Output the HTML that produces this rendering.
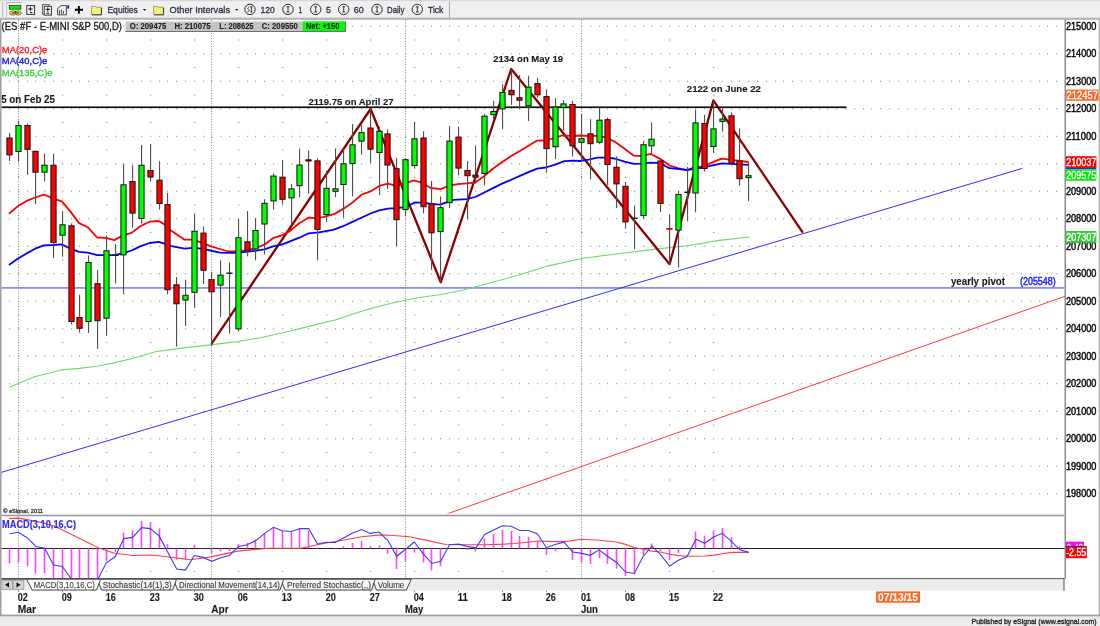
<!DOCTYPE html>
<html><head><meta charset="utf-8"><title>ES #F E-MINI S&amp;P 500 Daily</title>
<style>html,body{margin:0;padding:0;background:#fff;}body{width:1100px;height:626px;overflow:hidden;}svg{display:block;}text{white-space:pre;}</style>
</head><body>
<svg width="1100" height="626" viewBox="0 0 1100 626" shape-rendering="auto">
<rect x="0" y="0" width="1100" height="626" fill="#ffffff"/>
<rect x="0" y="0" width="1100" height="18.5" fill="#f0f0f0"/>
<rect x="0" y="0" width="1100" height="1.2" fill="#d8d8d8"/>
<rect x="0" y="17.6" width="1100" height="0.9" fill="#c0c0c0"/>
<rect x="0" y="18.4" width="1100" height="1.2" fill="#9a9a9a"/>
<rect x="449" y="1.5" width="1" height="16.5" fill="#a8a8a8"/>
<path d="M0 25.65h1.2v1.2h-1.2zM9 25.65h1.2v1.2h-1.2zM18 25.65h1.2v1.2h-1.2zM27 25.65h1.2v1.2h-1.2zM35 25.65h1.2v1.2h-1.2zM44 25.65h1.2v1.2h-1.2zM53 25.65h1.2v1.2h-1.2zM62 25.65h1.2v1.2h-1.2zM71 25.65h1.2v1.2h-1.2zM79 25.65h1.2v1.2h-1.2zM88 25.65h1.2v1.2h-1.2zM97 25.65h1.2v1.2h-1.2zM106 25.65h1.2v1.2h-1.2zM115 25.65h1.2v1.2h-1.2zM123 25.65h1.2v1.2h-1.2zM132 25.65h1.2v1.2h-1.2zM141 25.65h1.2v1.2h-1.2zM150 25.65h1.2v1.2h-1.2zM159 25.65h1.2v1.2h-1.2zM167 25.65h1.2v1.2h-1.2zM176 25.65h1.2v1.2h-1.2zM185 25.65h1.2v1.2h-1.2zM194 25.65h1.2v1.2h-1.2zM203 25.65h1.2v1.2h-1.2zM211 25.65h1.2v1.2h-1.2zM220 25.65h1.2v1.2h-1.2zM229 25.65h1.2v1.2h-1.2zM238 25.65h1.2v1.2h-1.2zM247 25.65h1.2v1.2h-1.2zM255 25.65h1.2v1.2h-1.2zM264 25.65h1.2v1.2h-1.2zM273 25.65h1.2v1.2h-1.2zM282 25.65h1.2v1.2h-1.2zM291 25.65h1.2v1.2h-1.2zM299 25.65h1.2v1.2h-1.2zM308 25.65h1.2v1.2h-1.2zM317 25.65h1.2v1.2h-1.2zM326 25.65h1.2v1.2h-1.2zM335 25.65h1.2v1.2h-1.2zM343 25.65h1.2v1.2h-1.2zM352 25.65h1.2v1.2h-1.2zM361 25.65h1.2v1.2h-1.2zM370 25.65h1.2v1.2h-1.2zM379 25.65h1.2v1.2h-1.2zM387 25.65h1.2v1.2h-1.2zM396 25.65h1.2v1.2h-1.2zM405 25.65h1.2v1.2h-1.2zM414 25.65h1.2v1.2h-1.2zM423 25.65h1.2v1.2h-1.2zM431 25.65h1.2v1.2h-1.2zM440 25.65h1.2v1.2h-1.2zM449 25.65h1.2v1.2h-1.2zM458 25.65h1.2v1.2h-1.2zM467 25.65h1.2v1.2h-1.2zM475 25.65h1.2v1.2h-1.2zM484 25.65h1.2v1.2h-1.2zM493 25.65h1.2v1.2h-1.2zM502 25.65h1.2v1.2h-1.2zM511 25.65h1.2v1.2h-1.2zM519 25.65h1.2v1.2h-1.2zM528 25.65h1.2v1.2h-1.2zM537 25.65h1.2v1.2h-1.2zM546 25.65h1.2v1.2h-1.2zM555 25.65h1.2v1.2h-1.2zM563 25.65h1.2v1.2h-1.2zM572 25.65h1.2v1.2h-1.2zM581 25.65h1.2v1.2h-1.2zM590 25.65h1.2v1.2h-1.2zM599 25.65h1.2v1.2h-1.2zM607 25.65h1.2v1.2h-1.2zM616 25.65h1.2v1.2h-1.2zM625 25.65h1.2v1.2h-1.2zM634 25.65h1.2v1.2h-1.2zM643 25.65h1.2v1.2h-1.2zM651 25.65h1.2v1.2h-1.2zM660 25.65h1.2v1.2h-1.2zM669 25.65h1.2v1.2h-1.2zM678 25.65h1.2v1.2h-1.2zM687 25.65h1.2v1.2h-1.2zM695 25.65h1.2v1.2h-1.2zM704 25.65h1.2v1.2h-1.2zM713 25.65h1.2v1.2h-1.2zM722 25.65h1.2v1.2h-1.2zM731 25.65h1.2v1.2h-1.2zM739 25.65h1.2v1.2h-1.2zM748 25.65h1.2v1.2h-1.2zM757 25.65h1.2v1.2h-1.2zM766 25.65h1.2v1.2h-1.2zM775 25.65h1.2v1.2h-1.2zM783 25.65h1.2v1.2h-1.2zM792 25.65h1.2v1.2h-1.2zM801 25.65h1.2v1.2h-1.2zM810 25.65h1.2v1.2h-1.2zM819 25.65h1.2v1.2h-1.2zM827 25.65h1.2v1.2h-1.2zM836 25.65h1.2v1.2h-1.2zM845 25.65h1.2v1.2h-1.2zM854 25.65h1.2v1.2h-1.2zM863 25.65h1.2v1.2h-1.2zM871 25.65h1.2v1.2h-1.2zM880 25.65h1.2v1.2h-1.2zM889 25.65h1.2v1.2h-1.2zM898 25.65h1.2v1.2h-1.2zM907 25.65h1.2v1.2h-1.2zM915 25.65h1.2v1.2h-1.2zM924 25.65h1.2v1.2h-1.2zM933 25.65h1.2v1.2h-1.2zM942 25.65h1.2v1.2h-1.2zM951 25.65h1.2v1.2h-1.2zM959 25.65h1.2v1.2h-1.2zM968 25.65h1.2v1.2h-1.2zM977 25.65h1.2v1.2h-1.2zM986 25.65h1.2v1.2h-1.2zM995 25.65h1.2v1.2h-1.2zM1003 25.65h1.2v1.2h-1.2zM1012 25.65h1.2v1.2h-1.2zM1021 25.65h1.2v1.2h-1.2zM1030 25.65h1.2v1.2h-1.2zM1039 25.65h1.2v1.2h-1.2zM1047 25.65h1.2v1.2h-1.2zM1056 25.65h1.2v1.2h-1.2zM18 39.4h1.2v1.2h-1.2zM62 39.4h1.2v1.2h-1.2zM106 39.4h1.2v1.2h-1.2zM150 39.4h1.2v1.2h-1.2zM194 39.4h1.2v1.2h-1.2zM238 39.4h1.2v1.2h-1.2zM282 39.4h1.2v1.2h-1.2zM326 39.4h1.2v1.2h-1.2zM370 39.4h1.2v1.2h-1.2zM414 39.4h1.2v1.2h-1.2zM458 39.4h1.2v1.2h-1.2zM502 39.4h1.2v1.2h-1.2zM546 39.4h1.2v1.2h-1.2zM581 39.4h1.2v1.2h-1.2zM625 39.4h1.2v1.2h-1.2zM669 39.4h1.2v1.2h-1.2zM713 39.4h1.2v1.2h-1.2zM0 53.15h1.2v1.2h-1.2zM9 53.15h1.2v1.2h-1.2zM18 53.15h1.2v1.2h-1.2zM27 53.15h1.2v1.2h-1.2zM35 53.15h1.2v1.2h-1.2zM44 53.15h1.2v1.2h-1.2zM53 53.15h1.2v1.2h-1.2zM62 53.15h1.2v1.2h-1.2zM71 53.15h1.2v1.2h-1.2zM79 53.15h1.2v1.2h-1.2zM88 53.15h1.2v1.2h-1.2zM97 53.15h1.2v1.2h-1.2zM106 53.15h1.2v1.2h-1.2zM115 53.15h1.2v1.2h-1.2zM123 53.15h1.2v1.2h-1.2zM132 53.15h1.2v1.2h-1.2zM141 53.15h1.2v1.2h-1.2zM150 53.15h1.2v1.2h-1.2zM159 53.15h1.2v1.2h-1.2zM167 53.15h1.2v1.2h-1.2zM176 53.15h1.2v1.2h-1.2zM185 53.15h1.2v1.2h-1.2zM194 53.15h1.2v1.2h-1.2zM203 53.15h1.2v1.2h-1.2zM211 53.15h1.2v1.2h-1.2zM220 53.15h1.2v1.2h-1.2zM229 53.15h1.2v1.2h-1.2zM238 53.15h1.2v1.2h-1.2zM247 53.15h1.2v1.2h-1.2zM255 53.15h1.2v1.2h-1.2zM264 53.15h1.2v1.2h-1.2zM273 53.15h1.2v1.2h-1.2zM282 53.15h1.2v1.2h-1.2zM291 53.15h1.2v1.2h-1.2zM299 53.15h1.2v1.2h-1.2zM308 53.15h1.2v1.2h-1.2zM317 53.15h1.2v1.2h-1.2zM326 53.15h1.2v1.2h-1.2zM335 53.15h1.2v1.2h-1.2zM343 53.15h1.2v1.2h-1.2zM352 53.15h1.2v1.2h-1.2zM361 53.15h1.2v1.2h-1.2zM370 53.15h1.2v1.2h-1.2zM379 53.15h1.2v1.2h-1.2zM387 53.15h1.2v1.2h-1.2zM396 53.15h1.2v1.2h-1.2zM405 53.15h1.2v1.2h-1.2zM414 53.15h1.2v1.2h-1.2zM423 53.15h1.2v1.2h-1.2zM431 53.15h1.2v1.2h-1.2zM440 53.15h1.2v1.2h-1.2zM449 53.15h1.2v1.2h-1.2zM458 53.15h1.2v1.2h-1.2zM467 53.15h1.2v1.2h-1.2zM475 53.15h1.2v1.2h-1.2zM484 53.15h1.2v1.2h-1.2zM493 53.15h1.2v1.2h-1.2zM502 53.15h1.2v1.2h-1.2zM511 53.15h1.2v1.2h-1.2zM519 53.15h1.2v1.2h-1.2zM528 53.15h1.2v1.2h-1.2zM537 53.15h1.2v1.2h-1.2zM546 53.15h1.2v1.2h-1.2zM555 53.15h1.2v1.2h-1.2zM563 53.15h1.2v1.2h-1.2zM572 53.15h1.2v1.2h-1.2zM581 53.15h1.2v1.2h-1.2zM590 53.15h1.2v1.2h-1.2zM599 53.15h1.2v1.2h-1.2zM607 53.15h1.2v1.2h-1.2zM616 53.15h1.2v1.2h-1.2zM625 53.15h1.2v1.2h-1.2zM634 53.15h1.2v1.2h-1.2zM643 53.15h1.2v1.2h-1.2zM651 53.15h1.2v1.2h-1.2zM660 53.15h1.2v1.2h-1.2zM669 53.15h1.2v1.2h-1.2zM678 53.15h1.2v1.2h-1.2zM687 53.15h1.2v1.2h-1.2zM695 53.15h1.2v1.2h-1.2zM704 53.15h1.2v1.2h-1.2zM713 53.15h1.2v1.2h-1.2zM722 53.15h1.2v1.2h-1.2zM731 53.15h1.2v1.2h-1.2zM739 53.15h1.2v1.2h-1.2zM748 53.15h1.2v1.2h-1.2zM757 53.15h1.2v1.2h-1.2zM766 53.15h1.2v1.2h-1.2zM775 53.15h1.2v1.2h-1.2zM783 53.15h1.2v1.2h-1.2zM792 53.15h1.2v1.2h-1.2zM801 53.15h1.2v1.2h-1.2zM810 53.15h1.2v1.2h-1.2zM819 53.15h1.2v1.2h-1.2zM827 53.15h1.2v1.2h-1.2zM836 53.15h1.2v1.2h-1.2zM845 53.15h1.2v1.2h-1.2zM854 53.15h1.2v1.2h-1.2zM863 53.15h1.2v1.2h-1.2zM871 53.15h1.2v1.2h-1.2zM880 53.15h1.2v1.2h-1.2zM889 53.15h1.2v1.2h-1.2zM898 53.15h1.2v1.2h-1.2zM907 53.15h1.2v1.2h-1.2zM915 53.15h1.2v1.2h-1.2zM924 53.15h1.2v1.2h-1.2zM933 53.15h1.2v1.2h-1.2zM942 53.15h1.2v1.2h-1.2zM951 53.15h1.2v1.2h-1.2zM959 53.15h1.2v1.2h-1.2zM968 53.15h1.2v1.2h-1.2zM977 53.15h1.2v1.2h-1.2zM986 53.15h1.2v1.2h-1.2zM995 53.15h1.2v1.2h-1.2zM1003 53.15h1.2v1.2h-1.2zM1012 53.15h1.2v1.2h-1.2zM1021 53.15h1.2v1.2h-1.2zM1030 53.15h1.2v1.2h-1.2zM1039 53.15h1.2v1.2h-1.2zM1047 53.15h1.2v1.2h-1.2zM1056 53.15h1.2v1.2h-1.2zM18 66.9h1.2v1.2h-1.2zM62 66.9h1.2v1.2h-1.2zM106 66.9h1.2v1.2h-1.2zM150 66.9h1.2v1.2h-1.2zM194 66.9h1.2v1.2h-1.2zM238 66.9h1.2v1.2h-1.2zM282 66.9h1.2v1.2h-1.2zM326 66.9h1.2v1.2h-1.2zM370 66.9h1.2v1.2h-1.2zM414 66.9h1.2v1.2h-1.2zM458 66.9h1.2v1.2h-1.2zM502 66.9h1.2v1.2h-1.2zM546 66.9h1.2v1.2h-1.2zM581 66.9h1.2v1.2h-1.2zM625 66.9h1.2v1.2h-1.2zM669 66.9h1.2v1.2h-1.2zM713 66.9h1.2v1.2h-1.2zM0 80.65h1.2v1.2h-1.2zM9 80.65h1.2v1.2h-1.2zM18 80.65h1.2v1.2h-1.2zM27 80.65h1.2v1.2h-1.2zM35 80.65h1.2v1.2h-1.2zM44 80.65h1.2v1.2h-1.2zM53 80.65h1.2v1.2h-1.2zM62 80.65h1.2v1.2h-1.2zM71 80.65h1.2v1.2h-1.2zM79 80.65h1.2v1.2h-1.2zM88 80.65h1.2v1.2h-1.2zM97 80.65h1.2v1.2h-1.2zM106 80.65h1.2v1.2h-1.2zM115 80.65h1.2v1.2h-1.2zM123 80.65h1.2v1.2h-1.2zM132 80.65h1.2v1.2h-1.2zM141 80.65h1.2v1.2h-1.2zM150 80.65h1.2v1.2h-1.2zM159 80.65h1.2v1.2h-1.2zM167 80.65h1.2v1.2h-1.2zM176 80.65h1.2v1.2h-1.2zM185 80.65h1.2v1.2h-1.2zM194 80.65h1.2v1.2h-1.2zM203 80.65h1.2v1.2h-1.2zM211 80.65h1.2v1.2h-1.2zM220 80.65h1.2v1.2h-1.2zM229 80.65h1.2v1.2h-1.2zM238 80.65h1.2v1.2h-1.2zM247 80.65h1.2v1.2h-1.2zM255 80.65h1.2v1.2h-1.2zM264 80.65h1.2v1.2h-1.2zM273 80.65h1.2v1.2h-1.2zM282 80.65h1.2v1.2h-1.2zM291 80.65h1.2v1.2h-1.2zM299 80.65h1.2v1.2h-1.2zM308 80.65h1.2v1.2h-1.2zM317 80.65h1.2v1.2h-1.2zM326 80.65h1.2v1.2h-1.2zM335 80.65h1.2v1.2h-1.2zM343 80.65h1.2v1.2h-1.2zM352 80.65h1.2v1.2h-1.2zM361 80.65h1.2v1.2h-1.2zM370 80.65h1.2v1.2h-1.2zM379 80.65h1.2v1.2h-1.2zM387 80.65h1.2v1.2h-1.2zM396 80.65h1.2v1.2h-1.2zM405 80.65h1.2v1.2h-1.2zM414 80.65h1.2v1.2h-1.2zM423 80.65h1.2v1.2h-1.2zM431 80.65h1.2v1.2h-1.2zM440 80.65h1.2v1.2h-1.2zM449 80.65h1.2v1.2h-1.2zM458 80.65h1.2v1.2h-1.2zM467 80.65h1.2v1.2h-1.2zM475 80.65h1.2v1.2h-1.2zM484 80.65h1.2v1.2h-1.2zM493 80.65h1.2v1.2h-1.2zM502 80.65h1.2v1.2h-1.2zM511 80.65h1.2v1.2h-1.2zM519 80.65h1.2v1.2h-1.2zM528 80.65h1.2v1.2h-1.2zM537 80.65h1.2v1.2h-1.2zM546 80.65h1.2v1.2h-1.2zM555 80.65h1.2v1.2h-1.2zM563 80.65h1.2v1.2h-1.2zM572 80.65h1.2v1.2h-1.2zM581 80.65h1.2v1.2h-1.2zM590 80.65h1.2v1.2h-1.2zM599 80.65h1.2v1.2h-1.2zM607 80.65h1.2v1.2h-1.2zM616 80.65h1.2v1.2h-1.2zM625 80.65h1.2v1.2h-1.2zM634 80.65h1.2v1.2h-1.2zM643 80.65h1.2v1.2h-1.2zM651 80.65h1.2v1.2h-1.2zM660 80.65h1.2v1.2h-1.2zM669 80.65h1.2v1.2h-1.2zM678 80.65h1.2v1.2h-1.2zM687 80.65h1.2v1.2h-1.2zM695 80.65h1.2v1.2h-1.2zM704 80.65h1.2v1.2h-1.2zM713 80.65h1.2v1.2h-1.2zM722 80.65h1.2v1.2h-1.2zM731 80.65h1.2v1.2h-1.2zM739 80.65h1.2v1.2h-1.2zM748 80.65h1.2v1.2h-1.2zM757 80.65h1.2v1.2h-1.2zM766 80.65h1.2v1.2h-1.2zM775 80.65h1.2v1.2h-1.2zM783 80.65h1.2v1.2h-1.2zM792 80.65h1.2v1.2h-1.2zM801 80.65h1.2v1.2h-1.2zM810 80.65h1.2v1.2h-1.2zM819 80.65h1.2v1.2h-1.2zM827 80.65h1.2v1.2h-1.2zM836 80.65h1.2v1.2h-1.2zM845 80.65h1.2v1.2h-1.2zM854 80.65h1.2v1.2h-1.2zM863 80.65h1.2v1.2h-1.2zM871 80.65h1.2v1.2h-1.2zM880 80.65h1.2v1.2h-1.2zM889 80.65h1.2v1.2h-1.2zM898 80.65h1.2v1.2h-1.2zM907 80.65h1.2v1.2h-1.2zM915 80.65h1.2v1.2h-1.2zM924 80.65h1.2v1.2h-1.2zM933 80.65h1.2v1.2h-1.2zM942 80.65h1.2v1.2h-1.2zM951 80.65h1.2v1.2h-1.2zM959 80.65h1.2v1.2h-1.2zM968 80.65h1.2v1.2h-1.2zM977 80.65h1.2v1.2h-1.2zM986 80.65h1.2v1.2h-1.2zM995 80.65h1.2v1.2h-1.2zM1003 80.65h1.2v1.2h-1.2zM1012 80.65h1.2v1.2h-1.2zM1021 80.65h1.2v1.2h-1.2zM1030 80.65h1.2v1.2h-1.2zM1039 80.65h1.2v1.2h-1.2zM1047 80.65h1.2v1.2h-1.2zM1056 80.65h1.2v1.2h-1.2zM18 94.4h1.2v1.2h-1.2zM62 94.4h1.2v1.2h-1.2zM106 94.4h1.2v1.2h-1.2zM150 94.4h1.2v1.2h-1.2zM194 94.4h1.2v1.2h-1.2zM238 94.4h1.2v1.2h-1.2zM282 94.4h1.2v1.2h-1.2zM326 94.4h1.2v1.2h-1.2zM370 94.4h1.2v1.2h-1.2zM414 94.4h1.2v1.2h-1.2zM458 94.4h1.2v1.2h-1.2zM502 94.4h1.2v1.2h-1.2zM546 94.4h1.2v1.2h-1.2zM581 94.4h1.2v1.2h-1.2zM625 94.4h1.2v1.2h-1.2zM669 94.4h1.2v1.2h-1.2zM713 94.4h1.2v1.2h-1.2zM0 108.15h1.2v1.2h-1.2zM9 108.15h1.2v1.2h-1.2zM18 108.15h1.2v1.2h-1.2zM27 108.15h1.2v1.2h-1.2zM35 108.15h1.2v1.2h-1.2zM44 108.15h1.2v1.2h-1.2zM53 108.15h1.2v1.2h-1.2zM62 108.15h1.2v1.2h-1.2zM71 108.15h1.2v1.2h-1.2zM79 108.15h1.2v1.2h-1.2zM88 108.15h1.2v1.2h-1.2zM97 108.15h1.2v1.2h-1.2zM106 108.15h1.2v1.2h-1.2zM115 108.15h1.2v1.2h-1.2zM123 108.15h1.2v1.2h-1.2zM132 108.15h1.2v1.2h-1.2zM141 108.15h1.2v1.2h-1.2zM150 108.15h1.2v1.2h-1.2zM159 108.15h1.2v1.2h-1.2zM167 108.15h1.2v1.2h-1.2zM176 108.15h1.2v1.2h-1.2zM185 108.15h1.2v1.2h-1.2zM194 108.15h1.2v1.2h-1.2zM203 108.15h1.2v1.2h-1.2zM211 108.15h1.2v1.2h-1.2zM220 108.15h1.2v1.2h-1.2zM229 108.15h1.2v1.2h-1.2zM238 108.15h1.2v1.2h-1.2zM247 108.15h1.2v1.2h-1.2zM255 108.15h1.2v1.2h-1.2zM264 108.15h1.2v1.2h-1.2zM273 108.15h1.2v1.2h-1.2zM282 108.15h1.2v1.2h-1.2zM291 108.15h1.2v1.2h-1.2zM299 108.15h1.2v1.2h-1.2zM308 108.15h1.2v1.2h-1.2zM317 108.15h1.2v1.2h-1.2zM326 108.15h1.2v1.2h-1.2zM335 108.15h1.2v1.2h-1.2zM343 108.15h1.2v1.2h-1.2zM352 108.15h1.2v1.2h-1.2zM361 108.15h1.2v1.2h-1.2zM370 108.15h1.2v1.2h-1.2zM379 108.15h1.2v1.2h-1.2zM387 108.15h1.2v1.2h-1.2zM396 108.15h1.2v1.2h-1.2zM405 108.15h1.2v1.2h-1.2zM414 108.15h1.2v1.2h-1.2zM423 108.15h1.2v1.2h-1.2zM431 108.15h1.2v1.2h-1.2zM440 108.15h1.2v1.2h-1.2zM449 108.15h1.2v1.2h-1.2zM458 108.15h1.2v1.2h-1.2zM467 108.15h1.2v1.2h-1.2zM475 108.15h1.2v1.2h-1.2zM484 108.15h1.2v1.2h-1.2zM493 108.15h1.2v1.2h-1.2zM502 108.15h1.2v1.2h-1.2zM511 108.15h1.2v1.2h-1.2zM519 108.15h1.2v1.2h-1.2zM528 108.15h1.2v1.2h-1.2zM537 108.15h1.2v1.2h-1.2zM546 108.15h1.2v1.2h-1.2zM555 108.15h1.2v1.2h-1.2zM563 108.15h1.2v1.2h-1.2zM572 108.15h1.2v1.2h-1.2zM581 108.15h1.2v1.2h-1.2zM590 108.15h1.2v1.2h-1.2zM599 108.15h1.2v1.2h-1.2zM607 108.15h1.2v1.2h-1.2zM616 108.15h1.2v1.2h-1.2zM625 108.15h1.2v1.2h-1.2zM634 108.15h1.2v1.2h-1.2zM643 108.15h1.2v1.2h-1.2zM651 108.15h1.2v1.2h-1.2zM660 108.15h1.2v1.2h-1.2zM669 108.15h1.2v1.2h-1.2zM678 108.15h1.2v1.2h-1.2zM687 108.15h1.2v1.2h-1.2zM695 108.15h1.2v1.2h-1.2zM704 108.15h1.2v1.2h-1.2zM713 108.15h1.2v1.2h-1.2zM722 108.15h1.2v1.2h-1.2zM731 108.15h1.2v1.2h-1.2zM739 108.15h1.2v1.2h-1.2zM748 108.15h1.2v1.2h-1.2zM757 108.15h1.2v1.2h-1.2zM766 108.15h1.2v1.2h-1.2zM775 108.15h1.2v1.2h-1.2zM783 108.15h1.2v1.2h-1.2zM792 108.15h1.2v1.2h-1.2zM801 108.15h1.2v1.2h-1.2zM810 108.15h1.2v1.2h-1.2zM819 108.15h1.2v1.2h-1.2zM827 108.15h1.2v1.2h-1.2zM836 108.15h1.2v1.2h-1.2zM845 108.15h1.2v1.2h-1.2zM854 108.15h1.2v1.2h-1.2zM863 108.15h1.2v1.2h-1.2zM871 108.15h1.2v1.2h-1.2zM880 108.15h1.2v1.2h-1.2zM889 108.15h1.2v1.2h-1.2zM898 108.15h1.2v1.2h-1.2zM907 108.15h1.2v1.2h-1.2zM915 108.15h1.2v1.2h-1.2zM924 108.15h1.2v1.2h-1.2zM933 108.15h1.2v1.2h-1.2zM942 108.15h1.2v1.2h-1.2zM951 108.15h1.2v1.2h-1.2zM959 108.15h1.2v1.2h-1.2zM968 108.15h1.2v1.2h-1.2zM977 108.15h1.2v1.2h-1.2zM986 108.15h1.2v1.2h-1.2zM995 108.15h1.2v1.2h-1.2zM1003 108.15h1.2v1.2h-1.2zM1012 108.15h1.2v1.2h-1.2zM1021 108.15h1.2v1.2h-1.2zM1030 108.15h1.2v1.2h-1.2zM1039 108.15h1.2v1.2h-1.2zM1047 108.15h1.2v1.2h-1.2zM1056 108.15h1.2v1.2h-1.2zM18 121.9h1.2v1.2h-1.2zM62 121.9h1.2v1.2h-1.2zM106 121.9h1.2v1.2h-1.2zM150 121.9h1.2v1.2h-1.2zM194 121.9h1.2v1.2h-1.2zM238 121.9h1.2v1.2h-1.2zM282 121.9h1.2v1.2h-1.2zM326 121.9h1.2v1.2h-1.2zM370 121.9h1.2v1.2h-1.2zM414 121.9h1.2v1.2h-1.2zM458 121.9h1.2v1.2h-1.2zM502 121.9h1.2v1.2h-1.2zM546 121.9h1.2v1.2h-1.2zM581 121.9h1.2v1.2h-1.2zM625 121.9h1.2v1.2h-1.2zM669 121.9h1.2v1.2h-1.2zM713 121.9h1.2v1.2h-1.2zM0 135.65h1.2v1.2h-1.2zM9 135.65h1.2v1.2h-1.2zM18 135.65h1.2v1.2h-1.2zM27 135.65h1.2v1.2h-1.2zM35 135.65h1.2v1.2h-1.2zM44 135.65h1.2v1.2h-1.2zM53 135.65h1.2v1.2h-1.2zM62 135.65h1.2v1.2h-1.2zM71 135.65h1.2v1.2h-1.2zM79 135.65h1.2v1.2h-1.2zM88 135.65h1.2v1.2h-1.2zM97 135.65h1.2v1.2h-1.2zM106 135.65h1.2v1.2h-1.2zM115 135.65h1.2v1.2h-1.2zM123 135.65h1.2v1.2h-1.2zM132 135.65h1.2v1.2h-1.2zM141 135.65h1.2v1.2h-1.2zM150 135.65h1.2v1.2h-1.2zM159 135.65h1.2v1.2h-1.2zM167 135.65h1.2v1.2h-1.2zM176 135.65h1.2v1.2h-1.2zM185 135.65h1.2v1.2h-1.2zM194 135.65h1.2v1.2h-1.2zM203 135.65h1.2v1.2h-1.2zM211 135.65h1.2v1.2h-1.2zM220 135.65h1.2v1.2h-1.2zM229 135.65h1.2v1.2h-1.2zM238 135.65h1.2v1.2h-1.2zM247 135.65h1.2v1.2h-1.2zM255 135.65h1.2v1.2h-1.2zM264 135.65h1.2v1.2h-1.2zM273 135.65h1.2v1.2h-1.2zM282 135.65h1.2v1.2h-1.2zM291 135.65h1.2v1.2h-1.2zM299 135.65h1.2v1.2h-1.2zM308 135.65h1.2v1.2h-1.2zM317 135.65h1.2v1.2h-1.2zM326 135.65h1.2v1.2h-1.2zM335 135.65h1.2v1.2h-1.2zM343 135.65h1.2v1.2h-1.2zM352 135.65h1.2v1.2h-1.2zM361 135.65h1.2v1.2h-1.2zM370 135.65h1.2v1.2h-1.2zM379 135.65h1.2v1.2h-1.2zM387 135.65h1.2v1.2h-1.2zM396 135.65h1.2v1.2h-1.2zM405 135.65h1.2v1.2h-1.2zM414 135.65h1.2v1.2h-1.2zM423 135.65h1.2v1.2h-1.2zM431 135.65h1.2v1.2h-1.2zM440 135.65h1.2v1.2h-1.2zM449 135.65h1.2v1.2h-1.2zM458 135.65h1.2v1.2h-1.2zM467 135.65h1.2v1.2h-1.2zM475 135.65h1.2v1.2h-1.2zM484 135.65h1.2v1.2h-1.2zM493 135.65h1.2v1.2h-1.2zM502 135.65h1.2v1.2h-1.2zM511 135.65h1.2v1.2h-1.2zM519 135.65h1.2v1.2h-1.2zM528 135.65h1.2v1.2h-1.2zM537 135.65h1.2v1.2h-1.2zM546 135.65h1.2v1.2h-1.2zM555 135.65h1.2v1.2h-1.2zM563 135.65h1.2v1.2h-1.2zM572 135.65h1.2v1.2h-1.2zM581 135.65h1.2v1.2h-1.2zM590 135.65h1.2v1.2h-1.2zM599 135.65h1.2v1.2h-1.2zM607 135.65h1.2v1.2h-1.2zM616 135.65h1.2v1.2h-1.2zM625 135.65h1.2v1.2h-1.2zM634 135.65h1.2v1.2h-1.2zM643 135.65h1.2v1.2h-1.2zM651 135.65h1.2v1.2h-1.2zM660 135.65h1.2v1.2h-1.2zM669 135.65h1.2v1.2h-1.2zM678 135.65h1.2v1.2h-1.2zM687 135.65h1.2v1.2h-1.2zM695 135.65h1.2v1.2h-1.2zM704 135.65h1.2v1.2h-1.2zM713 135.65h1.2v1.2h-1.2zM722 135.65h1.2v1.2h-1.2zM731 135.65h1.2v1.2h-1.2zM739 135.65h1.2v1.2h-1.2zM748 135.65h1.2v1.2h-1.2zM757 135.65h1.2v1.2h-1.2zM766 135.65h1.2v1.2h-1.2zM775 135.65h1.2v1.2h-1.2zM783 135.65h1.2v1.2h-1.2zM792 135.65h1.2v1.2h-1.2zM801 135.65h1.2v1.2h-1.2zM810 135.65h1.2v1.2h-1.2zM819 135.65h1.2v1.2h-1.2zM827 135.65h1.2v1.2h-1.2zM836 135.65h1.2v1.2h-1.2zM845 135.65h1.2v1.2h-1.2zM854 135.65h1.2v1.2h-1.2zM863 135.65h1.2v1.2h-1.2zM871 135.65h1.2v1.2h-1.2zM880 135.65h1.2v1.2h-1.2zM889 135.65h1.2v1.2h-1.2zM898 135.65h1.2v1.2h-1.2zM907 135.65h1.2v1.2h-1.2zM915 135.65h1.2v1.2h-1.2zM924 135.65h1.2v1.2h-1.2zM933 135.65h1.2v1.2h-1.2zM942 135.65h1.2v1.2h-1.2zM951 135.65h1.2v1.2h-1.2zM959 135.65h1.2v1.2h-1.2zM968 135.65h1.2v1.2h-1.2zM977 135.65h1.2v1.2h-1.2zM986 135.65h1.2v1.2h-1.2zM995 135.65h1.2v1.2h-1.2zM1003 135.65h1.2v1.2h-1.2zM1012 135.65h1.2v1.2h-1.2zM1021 135.65h1.2v1.2h-1.2zM1030 135.65h1.2v1.2h-1.2zM1039 135.65h1.2v1.2h-1.2zM1047 135.65h1.2v1.2h-1.2zM1056 135.65h1.2v1.2h-1.2zM18 149.4h1.2v1.2h-1.2zM62 149.4h1.2v1.2h-1.2zM106 149.4h1.2v1.2h-1.2zM150 149.4h1.2v1.2h-1.2zM194 149.4h1.2v1.2h-1.2zM238 149.4h1.2v1.2h-1.2zM282 149.4h1.2v1.2h-1.2zM326 149.4h1.2v1.2h-1.2zM370 149.4h1.2v1.2h-1.2zM414 149.4h1.2v1.2h-1.2zM458 149.4h1.2v1.2h-1.2zM502 149.4h1.2v1.2h-1.2zM546 149.4h1.2v1.2h-1.2zM581 149.4h1.2v1.2h-1.2zM625 149.4h1.2v1.2h-1.2zM669 149.4h1.2v1.2h-1.2zM713 149.4h1.2v1.2h-1.2zM0 163.15h1.2v1.2h-1.2zM9 163.15h1.2v1.2h-1.2zM18 163.15h1.2v1.2h-1.2zM27 163.15h1.2v1.2h-1.2zM35 163.15h1.2v1.2h-1.2zM44 163.15h1.2v1.2h-1.2zM53 163.15h1.2v1.2h-1.2zM62 163.15h1.2v1.2h-1.2zM71 163.15h1.2v1.2h-1.2zM79 163.15h1.2v1.2h-1.2zM88 163.15h1.2v1.2h-1.2zM97 163.15h1.2v1.2h-1.2zM106 163.15h1.2v1.2h-1.2zM115 163.15h1.2v1.2h-1.2zM123 163.15h1.2v1.2h-1.2zM132 163.15h1.2v1.2h-1.2zM141 163.15h1.2v1.2h-1.2zM150 163.15h1.2v1.2h-1.2zM159 163.15h1.2v1.2h-1.2zM167 163.15h1.2v1.2h-1.2zM176 163.15h1.2v1.2h-1.2zM185 163.15h1.2v1.2h-1.2zM194 163.15h1.2v1.2h-1.2zM203 163.15h1.2v1.2h-1.2zM211 163.15h1.2v1.2h-1.2zM220 163.15h1.2v1.2h-1.2zM229 163.15h1.2v1.2h-1.2zM238 163.15h1.2v1.2h-1.2zM247 163.15h1.2v1.2h-1.2zM255 163.15h1.2v1.2h-1.2zM264 163.15h1.2v1.2h-1.2zM273 163.15h1.2v1.2h-1.2zM282 163.15h1.2v1.2h-1.2zM291 163.15h1.2v1.2h-1.2zM299 163.15h1.2v1.2h-1.2zM308 163.15h1.2v1.2h-1.2zM317 163.15h1.2v1.2h-1.2zM326 163.15h1.2v1.2h-1.2zM335 163.15h1.2v1.2h-1.2zM343 163.15h1.2v1.2h-1.2zM352 163.15h1.2v1.2h-1.2zM361 163.15h1.2v1.2h-1.2zM370 163.15h1.2v1.2h-1.2zM379 163.15h1.2v1.2h-1.2zM387 163.15h1.2v1.2h-1.2zM396 163.15h1.2v1.2h-1.2zM405 163.15h1.2v1.2h-1.2zM414 163.15h1.2v1.2h-1.2zM423 163.15h1.2v1.2h-1.2zM431 163.15h1.2v1.2h-1.2zM440 163.15h1.2v1.2h-1.2zM449 163.15h1.2v1.2h-1.2zM458 163.15h1.2v1.2h-1.2zM467 163.15h1.2v1.2h-1.2zM475 163.15h1.2v1.2h-1.2zM484 163.15h1.2v1.2h-1.2zM493 163.15h1.2v1.2h-1.2zM502 163.15h1.2v1.2h-1.2zM511 163.15h1.2v1.2h-1.2zM519 163.15h1.2v1.2h-1.2zM528 163.15h1.2v1.2h-1.2zM537 163.15h1.2v1.2h-1.2zM546 163.15h1.2v1.2h-1.2zM555 163.15h1.2v1.2h-1.2zM563 163.15h1.2v1.2h-1.2zM572 163.15h1.2v1.2h-1.2zM581 163.15h1.2v1.2h-1.2zM590 163.15h1.2v1.2h-1.2zM599 163.15h1.2v1.2h-1.2zM607 163.15h1.2v1.2h-1.2zM616 163.15h1.2v1.2h-1.2zM625 163.15h1.2v1.2h-1.2zM634 163.15h1.2v1.2h-1.2zM643 163.15h1.2v1.2h-1.2zM651 163.15h1.2v1.2h-1.2zM660 163.15h1.2v1.2h-1.2zM669 163.15h1.2v1.2h-1.2zM678 163.15h1.2v1.2h-1.2zM687 163.15h1.2v1.2h-1.2zM695 163.15h1.2v1.2h-1.2zM704 163.15h1.2v1.2h-1.2zM713 163.15h1.2v1.2h-1.2zM722 163.15h1.2v1.2h-1.2zM731 163.15h1.2v1.2h-1.2zM739 163.15h1.2v1.2h-1.2zM748 163.15h1.2v1.2h-1.2zM757 163.15h1.2v1.2h-1.2zM766 163.15h1.2v1.2h-1.2zM775 163.15h1.2v1.2h-1.2zM783 163.15h1.2v1.2h-1.2zM792 163.15h1.2v1.2h-1.2zM801 163.15h1.2v1.2h-1.2zM810 163.15h1.2v1.2h-1.2zM819 163.15h1.2v1.2h-1.2zM827 163.15h1.2v1.2h-1.2zM836 163.15h1.2v1.2h-1.2zM845 163.15h1.2v1.2h-1.2zM854 163.15h1.2v1.2h-1.2zM863 163.15h1.2v1.2h-1.2zM871 163.15h1.2v1.2h-1.2zM880 163.15h1.2v1.2h-1.2zM889 163.15h1.2v1.2h-1.2zM898 163.15h1.2v1.2h-1.2zM907 163.15h1.2v1.2h-1.2zM915 163.15h1.2v1.2h-1.2zM924 163.15h1.2v1.2h-1.2zM933 163.15h1.2v1.2h-1.2zM942 163.15h1.2v1.2h-1.2zM951 163.15h1.2v1.2h-1.2zM959 163.15h1.2v1.2h-1.2zM968 163.15h1.2v1.2h-1.2zM977 163.15h1.2v1.2h-1.2zM986 163.15h1.2v1.2h-1.2zM995 163.15h1.2v1.2h-1.2zM1003 163.15h1.2v1.2h-1.2zM1012 163.15h1.2v1.2h-1.2zM1021 163.15h1.2v1.2h-1.2zM1030 163.15h1.2v1.2h-1.2zM1039 163.15h1.2v1.2h-1.2zM1047 163.15h1.2v1.2h-1.2zM1056 163.15h1.2v1.2h-1.2zM18 176.9h1.2v1.2h-1.2zM62 176.9h1.2v1.2h-1.2zM106 176.9h1.2v1.2h-1.2zM150 176.9h1.2v1.2h-1.2zM194 176.9h1.2v1.2h-1.2zM238 176.9h1.2v1.2h-1.2zM282 176.9h1.2v1.2h-1.2zM326 176.9h1.2v1.2h-1.2zM370 176.9h1.2v1.2h-1.2zM414 176.9h1.2v1.2h-1.2zM458 176.9h1.2v1.2h-1.2zM502 176.9h1.2v1.2h-1.2zM546 176.9h1.2v1.2h-1.2zM581 176.9h1.2v1.2h-1.2zM625 176.9h1.2v1.2h-1.2zM669 176.9h1.2v1.2h-1.2zM713 176.9h1.2v1.2h-1.2zM0 190.65h1.2v1.2h-1.2zM9 190.65h1.2v1.2h-1.2zM18 190.65h1.2v1.2h-1.2zM27 190.65h1.2v1.2h-1.2zM35 190.65h1.2v1.2h-1.2zM44 190.65h1.2v1.2h-1.2zM53 190.65h1.2v1.2h-1.2zM62 190.65h1.2v1.2h-1.2zM71 190.65h1.2v1.2h-1.2zM79 190.65h1.2v1.2h-1.2zM88 190.65h1.2v1.2h-1.2zM97 190.65h1.2v1.2h-1.2zM106 190.65h1.2v1.2h-1.2zM115 190.65h1.2v1.2h-1.2zM123 190.65h1.2v1.2h-1.2zM132 190.65h1.2v1.2h-1.2zM141 190.65h1.2v1.2h-1.2zM150 190.65h1.2v1.2h-1.2zM159 190.65h1.2v1.2h-1.2zM167 190.65h1.2v1.2h-1.2zM176 190.65h1.2v1.2h-1.2zM185 190.65h1.2v1.2h-1.2zM194 190.65h1.2v1.2h-1.2zM203 190.65h1.2v1.2h-1.2zM211 190.65h1.2v1.2h-1.2zM220 190.65h1.2v1.2h-1.2zM229 190.65h1.2v1.2h-1.2zM238 190.65h1.2v1.2h-1.2zM247 190.65h1.2v1.2h-1.2zM255 190.65h1.2v1.2h-1.2zM264 190.65h1.2v1.2h-1.2zM273 190.65h1.2v1.2h-1.2zM282 190.65h1.2v1.2h-1.2zM291 190.65h1.2v1.2h-1.2zM299 190.65h1.2v1.2h-1.2zM308 190.65h1.2v1.2h-1.2zM317 190.65h1.2v1.2h-1.2zM326 190.65h1.2v1.2h-1.2zM335 190.65h1.2v1.2h-1.2zM343 190.65h1.2v1.2h-1.2zM352 190.65h1.2v1.2h-1.2zM361 190.65h1.2v1.2h-1.2zM370 190.65h1.2v1.2h-1.2zM379 190.65h1.2v1.2h-1.2zM387 190.65h1.2v1.2h-1.2zM396 190.65h1.2v1.2h-1.2zM405 190.65h1.2v1.2h-1.2zM414 190.65h1.2v1.2h-1.2zM423 190.65h1.2v1.2h-1.2zM431 190.65h1.2v1.2h-1.2zM440 190.65h1.2v1.2h-1.2zM449 190.65h1.2v1.2h-1.2zM458 190.65h1.2v1.2h-1.2zM467 190.65h1.2v1.2h-1.2zM475 190.65h1.2v1.2h-1.2zM484 190.65h1.2v1.2h-1.2zM493 190.65h1.2v1.2h-1.2zM502 190.65h1.2v1.2h-1.2zM511 190.65h1.2v1.2h-1.2zM519 190.65h1.2v1.2h-1.2zM528 190.65h1.2v1.2h-1.2zM537 190.65h1.2v1.2h-1.2zM546 190.65h1.2v1.2h-1.2zM555 190.65h1.2v1.2h-1.2zM563 190.65h1.2v1.2h-1.2zM572 190.65h1.2v1.2h-1.2zM581 190.65h1.2v1.2h-1.2zM590 190.65h1.2v1.2h-1.2zM599 190.65h1.2v1.2h-1.2zM607 190.65h1.2v1.2h-1.2zM616 190.65h1.2v1.2h-1.2zM625 190.65h1.2v1.2h-1.2zM634 190.65h1.2v1.2h-1.2zM643 190.65h1.2v1.2h-1.2zM651 190.65h1.2v1.2h-1.2zM660 190.65h1.2v1.2h-1.2zM669 190.65h1.2v1.2h-1.2zM678 190.65h1.2v1.2h-1.2zM687 190.65h1.2v1.2h-1.2zM695 190.65h1.2v1.2h-1.2zM704 190.65h1.2v1.2h-1.2zM713 190.65h1.2v1.2h-1.2zM722 190.65h1.2v1.2h-1.2zM731 190.65h1.2v1.2h-1.2zM739 190.65h1.2v1.2h-1.2zM748 190.65h1.2v1.2h-1.2zM757 190.65h1.2v1.2h-1.2zM766 190.65h1.2v1.2h-1.2zM775 190.65h1.2v1.2h-1.2zM783 190.65h1.2v1.2h-1.2zM792 190.65h1.2v1.2h-1.2zM801 190.65h1.2v1.2h-1.2zM810 190.65h1.2v1.2h-1.2zM819 190.65h1.2v1.2h-1.2zM827 190.65h1.2v1.2h-1.2zM836 190.65h1.2v1.2h-1.2zM845 190.65h1.2v1.2h-1.2zM854 190.65h1.2v1.2h-1.2zM863 190.65h1.2v1.2h-1.2zM871 190.65h1.2v1.2h-1.2zM880 190.65h1.2v1.2h-1.2zM889 190.65h1.2v1.2h-1.2zM898 190.65h1.2v1.2h-1.2zM907 190.65h1.2v1.2h-1.2zM915 190.65h1.2v1.2h-1.2zM924 190.65h1.2v1.2h-1.2zM933 190.65h1.2v1.2h-1.2zM942 190.65h1.2v1.2h-1.2zM951 190.65h1.2v1.2h-1.2zM959 190.65h1.2v1.2h-1.2zM968 190.65h1.2v1.2h-1.2zM977 190.65h1.2v1.2h-1.2zM986 190.65h1.2v1.2h-1.2zM995 190.65h1.2v1.2h-1.2zM1003 190.65h1.2v1.2h-1.2zM1012 190.65h1.2v1.2h-1.2zM1021 190.65h1.2v1.2h-1.2zM1030 190.65h1.2v1.2h-1.2zM1039 190.65h1.2v1.2h-1.2zM1047 190.65h1.2v1.2h-1.2zM1056 190.65h1.2v1.2h-1.2zM18 204.4h1.2v1.2h-1.2zM62 204.4h1.2v1.2h-1.2zM106 204.4h1.2v1.2h-1.2zM150 204.4h1.2v1.2h-1.2zM194 204.4h1.2v1.2h-1.2zM238 204.4h1.2v1.2h-1.2zM282 204.4h1.2v1.2h-1.2zM326 204.4h1.2v1.2h-1.2zM370 204.4h1.2v1.2h-1.2zM414 204.4h1.2v1.2h-1.2zM458 204.4h1.2v1.2h-1.2zM502 204.4h1.2v1.2h-1.2zM546 204.4h1.2v1.2h-1.2zM581 204.4h1.2v1.2h-1.2zM625 204.4h1.2v1.2h-1.2zM669 204.4h1.2v1.2h-1.2zM713 204.4h1.2v1.2h-1.2zM0 218.15h1.2v1.2h-1.2zM9 218.15h1.2v1.2h-1.2zM18 218.15h1.2v1.2h-1.2zM27 218.15h1.2v1.2h-1.2zM35 218.15h1.2v1.2h-1.2zM44 218.15h1.2v1.2h-1.2zM53 218.15h1.2v1.2h-1.2zM62 218.15h1.2v1.2h-1.2zM71 218.15h1.2v1.2h-1.2zM79 218.15h1.2v1.2h-1.2zM88 218.15h1.2v1.2h-1.2zM97 218.15h1.2v1.2h-1.2zM106 218.15h1.2v1.2h-1.2zM115 218.15h1.2v1.2h-1.2zM123 218.15h1.2v1.2h-1.2zM132 218.15h1.2v1.2h-1.2zM141 218.15h1.2v1.2h-1.2zM150 218.15h1.2v1.2h-1.2zM159 218.15h1.2v1.2h-1.2zM167 218.15h1.2v1.2h-1.2zM176 218.15h1.2v1.2h-1.2zM185 218.15h1.2v1.2h-1.2zM194 218.15h1.2v1.2h-1.2zM203 218.15h1.2v1.2h-1.2zM211 218.15h1.2v1.2h-1.2zM220 218.15h1.2v1.2h-1.2zM229 218.15h1.2v1.2h-1.2zM238 218.15h1.2v1.2h-1.2zM247 218.15h1.2v1.2h-1.2zM255 218.15h1.2v1.2h-1.2zM264 218.15h1.2v1.2h-1.2zM273 218.15h1.2v1.2h-1.2zM282 218.15h1.2v1.2h-1.2zM291 218.15h1.2v1.2h-1.2zM299 218.15h1.2v1.2h-1.2zM308 218.15h1.2v1.2h-1.2zM317 218.15h1.2v1.2h-1.2zM326 218.15h1.2v1.2h-1.2zM335 218.15h1.2v1.2h-1.2zM343 218.15h1.2v1.2h-1.2zM352 218.15h1.2v1.2h-1.2zM361 218.15h1.2v1.2h-1.2zM370 218.15h1.2v1.2h-1.2zM379 218.15h1.2v1.2h-1.2zM387 218.15h1.2v1.2h-1.2zM396 218.15h1.2v1.2h-1.2zM405 218.15h1.2v1.2h-1.2zM414 218.15h1.2v1.2h-1.2zM423 218.15h1.2v1.2h-1.2zM431 218.15h1.2v1.2h-1.2zM440 218.15h1.2v1.2h-1.2zM449 218.15h1.2v1.2h-1.2zM458 218.15h1.2v1.2h-1.2zM467 218.15h1.2v1.2h-1.2zM475 218.15h1.2v1.2h-1.2zM484 218.15h1.2v1.2h-1.2zM493 218.15h1.2v1.2h-1.2zM502 218.15h1.2v1.2h-1.2zM511 218.15h1.2v1.2h-1.2zM519 218.15h1.2v1.2h-1.2zM528 218.15h1.2v1.2h-1.2zM537 218.15h1.2v1.2h-1.2zM546 218.15h1.2v1.2h-1.2zM555 218.15h1.2v1.2h-1.2zM563 218.15h1.2v1.2h-1.2zM572 218.15h1.2v1.2h-1.2zM581 218.15h1.2v1.2h-1.2zM590 218.15h1.2v1.2h-1.2zM599 218.15h1.2v1.2h-1.2zM607 218.15h1.2v1.2h-1.2zM616 218.15h1.2v1.2h-1.2zM625 218.15h1.2v1.2h-1.2zM634 218.15h1.2v1.2h-1.2zM643 218.15h1.2v1.2h-1.2zM651 218.15h1.2v1.2h-1.2zM660 218.15h1.2v1.2h-1.2zM669 218.15h1.2v1.2h-1.2zM678 218.15h1.2v1.2h-1.2zM687 218.15h1.2v1.2h-1.2zM695 218.15h1.2v1.2h-1.2zM704 218.15h1.2v1.2h-1.2zM713 218.15h1.2v1.2h-1.2zM722 218.15h1.2v1.2h-1.2zM731 218.15h1.2v1.2h-1.2zM739 218.15h1.2v1.2h-1.2zM748 218.15h1.2v1.2h-1.2zM757 218.15h1.2v1.2h-1.2zM766 218.15h1.2v1.2h-1.2zM775 218.15h1.2v1.2h-1.2zM783 218.15h1.2v1.2h-1.2zM792 218.15h1.2v1.2h-1.2zM801 218.15h1.2v1.2h-1.2zM810 218.15h1.2v1.2h-1.2zM819 218.15h1.2v1.2h-1.2zM827 218.15h1.2v1.2h-1.2zM836 218.15h1.2v1.2h-1.2zM845 218.15h1.2v1.2h-1.2zM854 218.15h1.2v1.2h-1.2zM863 218.15h1.2v1.2h-1.2zM871 218.15h1.2v1.2h-1.2zM880 218.15h1.2v1.2h-1.2zM889 218.15h1.2v1.2h-1.2zM898 218.15h1.2v1.2h-1.2zM907 218.15h1.2v1.2h-1.2zM915 218.15h1.2v1.2h-1.2zM924 218.15h1.2v1.2h-1.2zM933 218.15h1.2v1.2h-1.2zM942 218.15h1.2v1.2h-1.2zM951 218.15h1.2v1.2h-1.2zM959 218.15h1.2v1.2h-1.2zM968 218.15h1.2v1.2h-1.2zM977 218.15h1.2v1.2h-1.2zM986 218.15h1.2v1.2h-1.2zM995 218.15h1.2v1.2h-1.2zM1003 218.15h1.2v1.2h-1.2zM1012 218.15h1.2v1.2h-1.2zM1021 218.15h1.2v1.2h-1.2zM1030 218.15h1.2v1.2h-1.2zM1039 218.15h1.2v1.2h-1.2zM1047 218.15h1.2v1.2h-1.2zM1056 218.15h1.2v1.2h-1.2zM18 231.9h1.2v1.2h-1.2zM62 231.9h1.2v1.2h-1.2zM106 231.9h1.2v1.2h-1.2zM150 231.9h1.2v1.2h-1.2zM194 231.9h1.2v1.2h-1.2zM238 231.9h1.2v1.2h-1.2zM282 231.9h1.2v1.2h-1.2zM326 231.9h1.2v1.2h-1.2zM370 231.9h1.2v1.2h-1.2zM414 231.9h1.2v1.2h-1.2zM458 231.9h1.2v1.2h-1.2zM502 231.9h1.2v1.2h-1.2zM546 231.9h1.2v1.2h-1.2zM581 231.9h1.2v1.2h-1.2zM625 231.9h1.2v1.2h-1.2zM669 231.9h1.2v1.2h-1.2zM713 231.9h1.2v1.2h-1.2zM0 245.65h1.2v1.2h-1.2zM9 245.65h1.2v1.2h-1.2zM18 245.65h1.2v1.2h-1.2zM27 245.65h1.2v1.2h-1.2zM35 245.65h1.2v1.2h-1.2zM44 245.65h1.2v1.2h-1.2zM53 245.65h1.2v1.2h-1.2zM62 245.65h1.2v1.2h-1.2zM71 245.65h1.2v1.2h-1.2zM79 245.65h1.2v1.2h-1.2zM88 245.65h1.2v1.2h-1.2zM97 245.65h1.2v1.2h-1.2zM106 245.65h1.2v1.2h-1.2zM115 245.65h1.2v1.2h-1.2zM123 245.65h1.2v1.2h-1.2zM132 245.65h1.2v1.2h-1.2zM141 245.65h1.2v1.2h-1.2zM150 245.65h1.2v1.2h-1.2zM159 245.65h1.2v1.2h-1.2zM167 245.65h1.2v1.2h-1.2zM176 245.65h1.2v1.2h-1.2zM185 245.65h1.2v1.2h-1.2zM194 245.65h1.2v1.2h-1.2zM203 245.65h1.2v1.2h-1.2zM211 245.65h1.2v1.2h-1.2zM220 245.65h1.2v1.2h-1.2zM229 245.65h1.2v1.2h-1.2zM238 245.65h1.2v1.2h-1.2zM247 245.65h1.2v1.2h-1.2zM255 245.65h1.2v1.2h-1.2zM264 245.65h1.2v1.2h-1.2zM273 245.65h1.2v1.2h-1.2zM282 245.65h1.2v1.2h-1.2zM291 245.65h1.2v1.2h-1.2zM299 245.65h1.2v1.2h-1.2zM308 245.65h1.2v1.2h-1.2zM317 245.65h1.2v1.2h-1.2zM326 245.65h1.2v1.2h-1.2zM335 245.65h1.2v1.2h-1.2zM343 245.65h1.2v1.2h-1.2zM352 245.65h1.2v1.2h-1.2zM361 245.65h1.2v1.2h-1.2zM370 245.65h1.2v1.2h-1.2zM379 245.65h1.2v1.2h-1.2zM387 245.65h1.2v1.2h-1.2zM396 245.65h1.2v1.2h-1.2zM405 245.65h1.2v1.2h-1.2zM414 245.65h1.2v1.2h-1.2zM423 245.65h1.2v1.2h-1.2zM431 245.65h1.2v1.2h-1.2zM440 245.65h1.2v1.2h-1.2zM449 245.65h1.2v1.2h-1.2zM458 245.65h1.2v1.2h-1.2zM467 245.65h1.2v1.2h-1.2zM475 245.65h1.2v1.2h-1.2zM484 245.65h1.2v1.2h-1.2zM493 245.65h1.2v1.2h-1.2zM502 245.65h1.2v1.2h-1.2zM511 245.65h1.2v1.2h-1.2zM519 245.65h1.2v1.2h-1.2zM528 245.65h1.2v1.2h-1.2zM537 245.65h1.2v1.2h-1.2zM546 245.65h1.2v1.2h-1.2zM555 245.65h1.2v1.2h-1.2zM563 245.65h1.2v1.2h-1.2zM572 245.65h1.2v1.2h-1.2zM581 245.65h1.2v1.2h-1.2zM590 245.65h1.2v1.2h-1.2zM599 245.65h1.2v1.2h-1.2zM607 245.65h1.2v1.2h-1.2zM616 245.65h1.2v1.2h-1.2zM625 245.65h1.2v1.2h-1.2zM634 245.65h1.2v1.2h-1.2zM643 245.65h1.2v1.2h-1.2zM651 245.65h1.2v1.2h-1.2zM660 245.65h1.2v1.2h-1.2zM669 245.65h1.2v1.2h-1.2zM678 245.65h1.2v1.2h-1.2zM687 245.65h1.2v1.2h-1.2zM695 245.65h1.2v1.2h-1.2zM704 245.65h1.2v1.2h-1.2zM713 245.65h1.2v1.2h-1.2zM722 245.65h1.2v1.2h-1.2zM731 245.65h1.2v1.2h-1.2zM739 245.65h1.2v1.2h-1.2zM748 245.65h1.2v1.2h-1.2zM757 245.65h1.2v1.2h-1.2zM766 245.65h1.2v1.2h-1.2zM775 245.65h1.2v1.2h-1.2zM783 245.65h1.2v1.2h-1.2zM792 245.65h1.2v1.2h-1.2zM801 245.65h1.2v1.2h-1.2zM810 245.65h1.2v1.2h-1.2zM819 245.65h1.2v1.2h-1.2zM827 245.65h1.2v1.2h-1.2zM836 245.65h1.2v1.2h-1.2zM845 245.65h1.2v1.2h-1.2zM854 245.65h1.2v1.2h-1.2zM863 245.65h1.2v1.2h-1.2zM871 245.65h1.2v1.2h-1.2zM880 245.65h1.2v1.2h-1.2zM889 245.65h1.2v1.2h-1.2zM898 245.65h1.2v1.2h-1.2zM907 245.65h1.2v1.2h-1.2zM915 245.65h1.2v1.2h-1.2zM924 245.65h1.2v1.2h-1.2zM933 245.65h1.2v1.2h-1.2zM942 245.65h1.2v1.2h-1.2zM951 245.65h1.2v1.2h-1.2zM959 245.65h1.2v1.2h-1.2zM968 245.65h1.2v1.2h-1.2zM977 245.65h1.2v1.2h-1.2zM986 245.65h1.2v1.2h-1.2zM995 245.65h1.2v1.2h-1.2zM1003 245.65h1.2v1.2h-1.2zM1012 245.65h1.2v1.2h-1.2zM1021 245.65h1.2v1.2h-1.2zM1030 245.65h1.2v1.2h-1.2zM1039 245.65h1.2v1.2h-1.2zM1047 245.65h1.2v1.2h-1.2zM1056 245.65h1.2v1.2h-1.2zM18 259.4h1.2v1.2h-1.2zM62 259.4h1.2v1.2h-1.2zM106 259.4h1.2v1.2h-1.2zM150 259.4h1.2v1.2h-1.2zM194 259.4h1.2v1.2h-1.2zM238 259.4h1.2v1.2h-1.2zM282 259.4h1.2v1.2h-1.2zM326 259.4h1.2v1.2h-1.2zM370 259.4h1.2v1.2h-1.2zM414 259.4h1.2v1.2h-1.2zM458 259.4h1.2v1.2h-1.2zM502 259.4h1.2v1.2h-1.2zM546 259.4h1.2v1.2h-1.2zM581 259.4h1.2v1.2h-1.2zM625 259.4h1.2v1.2h-1.2zM669 259.4h1.2v1.2h-1.2zM713 259.4h1.2v1.2h-1.2zM0 273.15h1.2v1.2h-1.2zM9 273.15h1.2v1.2h-1.2zM18 273.15h1.2v1.2h-1.2zM27 273.15h1.2v1.2h-1.2zM35 273.15h1.2v1.2h-1.2zM44 273.15h1.2v1.2h-1.2zM53 273.15h1.2v1.2h-1.2zM62 273.15h1.2v1.2h-1.2zM71 273.15h1.2v1.2h-1.2zM79 273.15h1.2v1.2h-1.2zM88 273.15h1.2v1.2h-1.2zM97 273.15h1.2v1.2h-1.2zM106 273.15h1.2v1.2h-1.2zM115 273.15h1.2v1.2h-1.2zM123 273.15h1.2v1.2h-1.2zM132 273.15h1.2v1.2h-1.2zM141 273.15h1.2v1.2h-1.2zM150 273.15h1.2v1.2h-1.2zM159 273.15h1.2v1.2h-1.2zM167 273.15h1.2v1.2h-1.2zM176 273.15h1.2v1.2h-1.2zM185 273.15h1.2v1.2h-1.2zM194 273.15h1.2v1.2h-1.2zM203 273.15h1.2v1.2h-1.2zM211 273.15h1.2v1.2h-1.2zM220 273.15h1.2v1.2h-1.2zM229 273.15h1.2v1.2h-1.2zM238 273.15h1.2v1.2h-1.2zM247 273.15h1.2v1.2h-1.2zM255 273.15h1.2v1.2h-1.2zM264 273.15h1.2v1.2h-1.2zM273 273.15h1.2v1.2h-1.2zM282 273.15h1.2v1.2h-1.2zM291 273.15h1.2v1.2h-1.2zM299 273.15h1.2v1.2h-1.2zM308 273.15h1.2v1.2h-1.2zM317 273.15h1.2v1.2h-1.2zM326 273.15h1.2v1.2h-1.2zM335 273.15h1.2v1.2h-1.2zM343 273.15h1.2v1.2h-1.2zM352 273.15h1.2v1.2h-1.2zM361 273.15h1.2v1.2h-1.2zM370 273.15h1.2v1.2h-1.2zM379 273.15h1.2v1.2h-1.2zM387 273.15h1.2v1.2h-1.2zM396 273.15h1.2v1.2h-1.2zM405 273.15h1.2v1.2h-1.2zM414 273.15h1.2v1.2h-1.2zM423 273.15h1.2v1.2h-1.2zM431 273.15h1.2v1.2h-1.2zM440 273.15h1.2v1.2h-1.2zM449 273.15h1.2v1.2h-1.2zM458 273.15h1.2v1.2h-1.2zM467 273.15h1.2v1.2h-1.2zM475 273.15h1.2v1.2h-1.2zM484 273.15h1.2v1.2h-1.2zM493 273.15h1.2v1.2h-1.2zM502 273.15h1.2v1.2h-1.2zM511 273.15h1.2v1.2h-1.2zM519 273.15h1.2v1.2h-1.2zM528 273.15h1.2v1.2h-1.2zM537 273.15h1.2v1.2h-1.2zM546 273.15h1.2v1.2h-1.2zM555 273.15h1.2v1.2h-1.2zM563 273.15h1.2v1.2h-1.2zM572 273.15h1.2v1.2h-1.2zM581 273.15h1.2v1.2h-1.2zM590 273.15h1.2v1.2h-1.2zM599 273.15h1.2v1.2h-1.2zM607 273.15h1.2v1.2h-1.2zM616 273.15h1.2v1.2h-1.2zM625 273.15h1.2v1.2h-1.2zM634 273.15h1.2v1.2h-1.2zM643 273.15h1.2v1.2h-1.2zM651 273.15h1.2v1.2h-1.2zM660 273.15h1.2v1.2h-1.2zM669 273.15h1.2v1.2h-1.2zM678 273.15h1.2v1.2h-1.2zM687 273.15h1.2v1.2h-1.2zM695 273.15h1.2v1.2h-1.2zM704 273.15h1.2v1.2h-1.2zM713 273.15h1.2v1.2h-1.2zM722 273.15h1.2v1.2h-1.2zM731 273.15h1.2v1.2h-1.2zM739 273.15h1.2v1.2h-1.2zM748 273.15h1.2v1.2h-1.2zM757 273.15h1.2v1.2h-1.2zM766 273.15h1.2v1.2h-1.2zM775 273.15h1.2v1.2h-1.2zM783 273.15h1.2v1.2h-1.2zM792 273.15h1.2v1.2h-1.2zM801 273.15h1.2v1.2h-1.2zM810 273.15h1.2v1.2h-1.2zM819 273.15h1.2v1.2h-1.2zM827 273.15h1.2v1.2h-1.2zM836 273.15h1.2v1.2h-1.2zM845 273.15h1.2v1.2h-1.2zM854 273.15h1.2v1.2h-1.2zM863 273.15h1.2v1.2h-1.2zM871 273.15h1.2v1.2h-1.2zM880 273.15h1.2v1.2h-1.2zM889 273.15h1.2v1.2h-1.2zM898 273.15h1.2v1.2h-1.2zM907 273.15h1.2v1.2h-1.2zM915 273.15h1.2v1.2h-1.2zM924 273.15h1.2v1.2h-1.2zM933 273.15h1.2v1.2h-1.2zM942 273.15h1.2v1.2h-1.2zM951 273.15h1.2v1.2h-1.2zM959 273.15h1.2v1.2h-1.2zM968 273.15h1.2v1.2h-1.2zM977 273.15h1.2v1.2h-1.2zM986 273.15h1.2v1.2h-1.2zM995 273.15h1.2v1.2h-1.2zM1003 273.15h1.2v1.2h-1.2zM1012 273.15h1.2v1.2h-1.2zM1021 273.15h1.2v1.2h-1.2zM1030 273.15h1.2v1.2h-1.2zM1039 273.15h1.2v1.2h-1.2zM1047 273.15h1.2v1.2h-1.2zM1056 273.15h1.2v1.2h-1.2zM18 286.9h1.2v1.2h-1.2zM62 286.9h1.2v1.2h-1.2zM106 286.9h1.2v1.2h-1.2zM150 286.9h1.2v1.2h-1.2zM194 286.9h1.2v1.2h-1.2zM238 286.9h1.2v1.2h-1.2zM282 286.9h1.2v1.2h-1.2zM326 286.9h1.2v1.2h-1.2zM370 286.9h1.2v1.2h-1.2zM414 286.9h1.2v1.2h-1.2zM458 286.9h1.2v1.2h-1.2zM502 286.9h1.2v1.2h-1.2zM546 286.9h1.2v1.2h-1.2zM581 286.9h1.2v1.2h-1.2zM625 286.9h1.2v1.2h-1.2zM669 286.9h1.2v1.2h-1.2zM713 286.9h1.2v1.2h-1.2zM0 300.65h1.2v1.2h-1.2zM9 300.65h1.2v1.2h-1.2zM18 300.65h1.2v1.2h-1.2zM27 300.65h1.2v1.2h-1.2zM35 300.65h1.2v1.2h-1.2zM44 300.65h1.2v1.2h-1.2zM53 300.65h1.2v1.2h-1.2zM62 300.65h1.2v1.2h-1.2zM71 300.65h1.2v1.2h-1.2zM79 300.65h1.2v1.2h-1.2zM88 300.65h1.2v1.2h-1.2zM97 300.65h1.2v1.2h-1.2zM106 300.65h1.2v1.2h-1.2zM115 300.65h1.2v1.2h-1.2zM123 300.65h1.2v1.2h-1.2zM132 300.65h1.2v1.2h-1.2zM141 300.65h1.2v1.2h-1.2zM150 300.65h1.2v1.2h-1.2zM159 300.65h1.2v1.2h-1.2zM167 300.65h1.2v1.2h-1.2zM176 300.65h1.2v1.2h-1.2zM185 300.65h1.2v1.2h-1.2zM194 300.65h1.2v1.2h-1.2zM203 300.65h1.2v1.2h-1.2zM211 300.65h1.2v1.2h-1.2zM220 300.65h1.2v1.2h-1.2zM229 300.65h1.2v1.2h-1.2zM238 300.65h1.2v1.2h-1.2zM247 300.65h1.2v1.2h-1.2zM255 300.65h1.2v1.2h-1.2zM264 300.65h1.2v1.2h-1.2zM273 300.65h1.2v1.2h-1.2zM282 300.65h1.2v1.2h-1.2zM291 300.65h1.2v1.2h-1.2zM299 300.65h1.2v1.2h-1.2zM308 300.65h1.2v1.2h-1.2zM317 300.65h1.2v1.2h-1.2zM326 300.65h1.2v1.2h-1.2zM335 300.65h1.2v1.2h-1.2zM343 300.65h1.2v1.2h-1.2zM352 300.65h1.2v1.2h-1.2zM361 300.65h1.2v1.2h-1.2zM370 300.65h1.2v1.2h-1.2zM379 300.65h1.2v1.2h-1.2zM387 300.65h1.2v1.2h-1.2zM396 300.65h1.2v1.2h-1.2zM405 300.65h1.2v1.2h-1.2zM414 300.65h1.2v1.2h-1.2zM423 300.65h1.2v1.2h-1.2zM431 300.65h1.2v1.2h-1.2zM440 300.65h1.2v1.2h-1.2zM449 300.65h1.2v1.2h-1.2zM458 300.65h1.2v1.2h-1.2zM467 300.65h1.2v1.2h-1.2zM475 300.65h1.2v1.2h-1.2zM484 300.65h1.2v1.2h-1.2zM493 300.65h1.2v1.2h-1.2zM502 300.65h1.2v1.2h-1.2zM511 300.65h1.2v1.2h-1.2zM519 300.65h1.2v1.2h-1.2zM528 300.65h1.2v1.2h-1.2zM537 300.65h1.2v1.2h-1.2zM546 300.65h1.2v1.2h-1.2zM555 300.65h1.2v1.2h-1.2zM563 300.65h1.2v1.2h-1.2zM572 300.65h1.2v1.2h-1.2zM581 300.65h1.2v1.2h-1.2zM590 300.65h1.2v1.2h-1.2zM599 300.65h1.2v1.2h-1.2zM607 300.65h1.2v1.2h-1.2zM616 300.65h1.2v1.2h-1.2zM625 300.65h1.2v1.2h-1.2zM634 300.65h1.2v1.2h-1.2zM643 300.65h1.2v1.2h-1.2zM651 300.65h1.2v1.2h-1.2zM660 300.65h1.2v1.2h-1.2zM669 300.65h1.2v1.2h-1.2zM678 300.65h1.2v1.2h-1.2zM687 300.65h1.2v1.2h-1.2zM695 300.65h1.2v1.2h-1.2zM704 300.65h1.2v1.2h-1.2zM713 300.65h1.2v1.2h-1.2zM722 300.65h1.2v1.2h-1.2zM731 300.65h1.2v1.2h-1.2zM739 300.65h1.2v1.2h-1.2zM748 300.65h1.2v1.2h-1.2zM757 300.65h1.2v1.2h-1.2zM766 300.65h1.2v1.2h-1.2zM775 300.65h1.2v1.2h-1.2zM783 300.65h1.2v1.2h-1.2zM792 300.65h1.2v1.2h-1.2zM801 300.65h1.2v1.2h-1.2zM810 300.65h1.2v1.2h-1.2zM819 300.65h1.2v1.2h-1.2zM827 300.65h1.2v1.2h-1.2zM836 300.65h1.2v1.2h-1.2zM845 300.65h1.2v1.2h-1.2zM854 300.65h1.2v1.2h-1.2zM863 300.65h1.2v1.2h-1.2zM871 300.65h1.2v1.2h-1.2zM880 300.65h1.2v1.2h-1.2zM889 300.65h1.2v1.2h-1.2zM898 300.65h1.2v1.2h-1.2zM907 300.65h1.2v1.2h-1.2zM915 300.65h1.2v1.2h-1.2zM924 300.65h1.2v1.2h-1.2zM933 300.65h1.2v1.2h-1.2zM942 300.65h1.2v1.2h-1.2zM951 300.65h1.2v1.2h-1.2zM959 300.65h1.2v1.2h-1.2zM968 300.65h1.2v1.2h-1.2zM977 300.65h1.2v1.2h-1.2zM986 300.65h1.2v1.2h-1.2zM995 300.65h1.2v1.2h-1.2zM1003 300.65h1.2v1.2h-1.2zM1012 300.65h1.2v1.2h-1.2zM1021 300.65h1.2v1.2h-1.2zM1030 300.65h1.2v1.2h-1.2zM1039 300.65h1.2v1.2h-1.2zM1047 300.65h1.2v1.2h-1.2zM1056 300.65h1.2v1.2h-1.2zM18 314.4h1.2v1.2h-1.2zM62 314.4h1.2v1.2h-1.2zM106 314.4h1.2v1.2h-1.2zM150 314.4h1.2v1.2h-1.2zM194 314.4h1.2v1.2h-1.2zM238 314.4h1.2v1.2h-1.2zM282 314.4h1.2v1.2h-1.2zM326 314.4h1.2v1.2h-1.2zM370 314.4h1.2v1.2h-1.2zM414 314.4h1.2v1.2h-1.2zM458 314.4h1.2v1.2h-1.2zM502 314.4h1.2v1.2h-1.2zM546 314.4h1.2v1.2h-1.2zM581 314.4h1.2v1.2h-1.2zM625 314.4h1.2v1.2h-1.2zM669 314.4h1.2v1.2h-1.2zM713 314.4h1.2v1.2h-1.2zM0 328.15h1.2v1.2h-1.2zM9 328.15h1.2v1.2h-1.2zM18 328.15h1.2v1.2h-1.2zM27 328.15h1.2v1.2h-1.2zM35 328.15h1.2v1.2h-1.2zM44 328.15h1.2v1.2h-1.2zM53 328.15h1.2v1.2h-1.2zM62 328.15h1.2v1.2h-1.2zM71 328.15h1.2v1.2h-1.2zM79 328.15h1.2v1.2h-1.2zM88 328.15h1.2v1.2h-1.2zM97 328.15h1.2v1.2h-1.2zM106 328.15h1.2v1.2h-1.2zM115 328.15h1.2v1.2h-1.2zM123 328.15h1.2v1.2h-1.2zM132 328.15h1.2v1.2h-1.2zM141 328.15h1.2v1.2h-1.2zM150 328.15h1.2v1.2h-1.2zM159 328.15h1.2v1.2h-1.2zM167 328.15h1.2v1.2h-1.2zM176 328.15h1.2v1.2h-1.2zM185 328.15h1.2v1.2h-1.2zM194 328.15h1.2v1.2h-1.2zM203 328.15h1.2v1.2h-1.2zM211 328.15h1.2v1.2h-1.2zM220 328.15h1.2v1.2h-1.2zM229 328.15h1.2v1.2h-1.2zM238 328.15h1.2v1.2h-1.2zM247 328.15h1.2v1.2h-1.2zM255 328.15h1.2v1.2h-1.2zM264 328.15h1.2v1.2h-1.2zM273 328.15h1.2v1.2h-1.2zM282 328.15h1.2v1.2h-1.2zM291 328.15h1.2v1.2h-1.2zM299 328.15h1.2v1.2h-1.2zM308 328.15h1.2v1.2h-1.2zM317 328.15h1.2v1.2h-1.2zM326 328.15h1.2v1.2h-1.2zM335 328.15h1.2v1.2h-1.2zM343 328.15h1.2v1.2h-1.2zM352 328.15h1.2v1.2h-1.2zM361 328.15h1.2v1.2h-1.2zM370 328.15h1.2v1.2h-1.2zM379 328.15h1.2v1.2h-1.2zM387 328.15h1.2v1.2h-1.2zM396 328.15h1.2v1.2h-1.2zM405 328.15h1.2v1.2h-1.2zM414 328.15h1.2v1.2h-1.2zM423 328.15h1.2v1.2h-1.2zM431 328.15h1.2v1.2h-1.2zM440 328.15h1.2v1.2h-1.2zM449 328.15h1.2v1.2h-1.2zM458 328.15h1.2v1.2h-1.2zM467 328.15h1.2v1.2h-1.2zM475 328.15h1.2v1.2h-1.2zM484 328.15h1.2v1.2h-1.2zM493 328.15h1.2v1.2h-1.2zM502 328.15h1.2v1.2h-1.2zM511 328.15h1.2v1.2h-1.2zM519 328.15h1.2v1.2h-1.2zM528 328.15h1.2v1.2h-1.2zM537 328.15h1.2v1.2h-1.2zM546 328.15h1.2v1.2h-1.2zM555 328.15h1.2v1.2h-1.2zM563 328.15h1.2v1.2h-1.2zM572 328.15h1.2v1.2h-1.2zM581 328.15h1.2v1.2h-1.2zM590 328.15h1.2v1.2h-1.2zM599 328.15h1.2v1.2h-1.2zM607 328.15h1.2v1.2h-1.2zM616 328.15h1.2v1.2h-1.2zM625 328.15h1.2v1.2h-1.2zM634 328.15h1.2v1.2h-1.2zM643 328.15h1.2v1.2h-1.2zM651 328.15h1.2v1.2h-1.2zM660 328.15h1.2v1.2h-1.2zM669 328.15h1.2v1.2h-1.2zM678 328.15h1.2v1.2h-1.2zM687 328.15h1.2v1.2h-1.2zM695 328.15h1.2v1.2h-1.2zM704 328.15h1.2v1.2h-1.2zM713 328.15h1.2v1.2h-1.2zM722 328.15h1.2v1.2h-1.2zM731 328.15h1.2v1.2h-1.2zM739 328.15h1.2v1.2h-1.2zM748 328.15h1.2v1.2h-1.2zM757 328.15h1.2v1.2h-1.2zM766 328.15h1.2v1.2h-1.2zM775 328.15h1.2v1.2h-1.2zM783 328.15h1.2v1.2h-1.2zM792 328.15h1.2v1.2h-1.2zM801 328.15h1.2v1.2h-1.2zM810 328.15h1.2v1.2h-1.2zM819 328.15h1.2v1.2h-1.2zM827 328.15h1.2v1.2h-1.2zM836 328.15h1.2v1.2h-1.2zM845 328.15h1.2v1.2h-1.2zM854 328.15h1.2v1.2h-1.2zM863 328.15h1.2v1.2h-1.2zM871 328.15h1.2v1.2h-1.2zM880 328.15h1.2v1.2h-1.2zM889 328.15h1.2v1.2h-1.2zM898 328.15h1.2v1.2h-1.2zM907 328.15h1.2v1.2h-1.2zM915 328.15h1.2v1.2h-1.2zM924 328.15h1.2v1.2h-1.2zM933 328.15h1.2v1.2h-1.2zM942 328.15h1.2v1.2h-1.2zM951 328.15h1.2v1.2h-1.2zM959 328.15h1.2v1.2h-1.2zM968 328.15h1.2v1.2h-1.2zM977 328.15h1.2v1.2h-1.2zM986 328.15h1.2v1.2h-1.2zM995 328.15h1.2v1.2h-1.2zM1003 328.15h1.2v1.2h-1.2zM1012 328.15h1.2v1.2h-1.2zM1021 328.15h1.2v1.2h-1.2zM1030 328.15h1.2v1.2h-1.2zM1039 328.15h1.2v1.2h-1.2zM1047 328.15h1.2v1.2h-1.2zM1056 328.15h1.2v1.2h-1.2zM18 341.9h1.2v1.2h-1.2zM62 341.9h1.2v1.2h-1.2zM106 341.9h1.2v1.2h-1.2zM150 341.9h1.2v1.2h-1.2zM194 341.9h1.2v1.2h-1.2zM238 341.9h1.2v1.2h-1.2zM282 341.9h1.2v1.2h-1.2zM326 341.9h1.2v1.2h-1.2zM370 341.9h1.2v1.2h-1.2zM414 341.9h1.2v1.2h-1.2zM458 341.9h1.2v1.2h-1.2zM502 341.9h1.2v1.2h-1.2zM546 341.9h1.2v1.2h-1.2zM581 341.9h1.2v1.2h-1.2zM625 341.9h1.2v1.2h-1.2zM669 341.9h1.2v1.2h-1.2zM713 341.9h1.2v1.2h-1.2zM0 355.65h1.2v1.2h-1.2zM9 355.65h1.2v1.2h-1.2zM18 355.65h1.2v1.2h-1.2zM27 355.65h1.2v1.2h-1.2zM35 355.65h1.2v1.2h-1.2zM44 355.65h1.2v1.2h-1.2zM53 355.65h1.2v1.2h-1.2zM62 355.65h1.2v1.2h-1.2zM71 355.65h1.2v1.2h-1.2zM79 355.65h1.2v1.2h-1.2zM88 355.65h1.2v1.2h-1.2zM97 355.65h1.2v1.2h-1.2zM106 355.65h1.2v1.2h-1.2zM115 355.65h1.2v1.2h-1.2zM123 355.65h1.2v1.2h-1.2zM132 355.65h1.2v1.2h-1.2zM141 355.65h1.2v1.2h-1.2zM150 355.65h1.2v1.2h-1.2zM159 355.65h1.2v1.2h-1.2zM167 355.65h1.2v1.2h-1.2zM176 355.65h1.2v1.2h-1.2zM185 355.65h1.2v1.2h-1.2zM194 355.65h1.2v1.2h-1.2zM203 355.65h1.2v1.2h-1.2zM211 355.65h1.2v1.2h-1.2zM220 355.65h1.2v1.2h-1.2zM229 355.65h1.2v1.2h-1.2zM238 355.65h1.2v1.2h-1.2zM247 355.65h1.2v1.2h-1.2zM255 355.65h1.2v1.2h-1.2zM264 355.65h1.2v1.2h-1.2zM273 355.65h1.2v1.2h-1.2zM282 355.65h1.2v1.2h-1.2zM291 355.65h1.2v1.2h-1.2zM299 355.65h1.2v1.2h-1.2zM308 355.65h1.2v1.2h-1.2zM317 355.65h1.2v1.2h-1.2zM326 355.65h1.2v1.2h-1.2zM335 355.65h1.2v1.2h-1.2zM343 355.65h1.2v1.2h-1.2zM352 355.65h1.2v1.2h-1.2zM361 355.65h1.2v1.2h-1.2zM370 355.65h1.2v1.2h-1.2zM379 355.65h1.2v1.2h-1.2zM387 355.65h1.2v1.2h-1.2zM396 355.65h1.2v1.2h-1.2zM405 355.65h1.2v1.2h-1.2zM414 355.65h1.2v1.2h-1.2zM423 355.65h1.2v1.2h-1.2zM431 355.65h1.2v1.2h-1.2zM440 355.65h1.2v1.2h-1.2zM449 355.65h1.2v1.2h-1.2zM458 355.65h1.2v1.2h-1.2zM467 355.65h1.2v1.2h-1.2zM475 355.65h1.2v1.2h-1.2zM484 355.65h1.2v1.2h-1.2zM493 355.65h1.2v1.2h-1.2zM502 355.65h1.2v1.2h-1.2zM511 355.65h1.2v1.2h-1.2zM519 355.65h1.2v1.2h-1.2zM528 355.65h1.2v1.2h-1.2zM537 355.65h1.2v1.2h-1.2zM546 355.65h1.2v1.2h-1.2zM555 355.65h1.2v1.2h-1.2zM563 355.65h1.2v1.2h-1.2zM572 355.65h1.2v1.2h-1.2zM581 355.65h1.2v1.2h-1.2zM590 355.65h1.2v1.2h-1.2zM599 355.65h1.2v1.2h-1.2zM607 355.65h1.2v1.2h-1.2zM616 355.65h1.2v1.2h-1.2zM625 355.65h1.2v1.2h-1.2zM634 355.65h1.2v1.2h-1.2zM643 355.65h1.2v1.2h-1.2zM651 355.65h1.2v1.2h-1.2zM660 355.65h1.2v1.2h-1.2zM669 355.65h1.2v1.2h-1.2zM678 355.65h1.2v1.2h-1.2zM687 355.65h1.2v1.2h-1.2zM695 355.65h1.2v1.2h-1.2zM704 355.65h1.2v1.2h-1.2zM713 355.65h1.2v1.2h-1.2zM722 355.65h1.2v1.2h-1.2zM731 355.65h1.2v1.2h-1.2zM739 355.65h1.2v1.2h-1.2zM748 355.65h1.2v1.2h-1.2zM757 355.65h1.2v1.2h-1.2zM766 355.65h1.2v1.2h-1.2zM775 355.65h1.2v1.2h-1.2zM783 355.65h1.2v1.2h-1.2zM792 355.65h1.2v1.2h-1.2zM801 355.65h1.2v1.2h-1.2zM810 355.65h1.2v1.2h-1.2zM819 355.65h1.2v1.2h-1.2zM827 355.65h1.2v1.2h-1.2zM836 355.65h1.2v1.2h-1.2zM845 355.65h1.2v1.2h-1.2zM854 355.65h1.2v1.2h-1.2zM863 355.65h1.2v1.2h-1.2zM871 355.65h1.2v1.2h-1.2zM880 355.65h1.2v1.2h-1.2zM889 355.65h1.2v1.2h-1.2zM898 355.65h1.2v1.2h-1.2zM907 355.65h1.2v1.2h-1.2zM915 355.65h1.2v1.2h-1.2zM924 355.65h1.2v1.2h-1.2zM933 355.65h1.2v1.2h-1.2zM942 355.65h1.2v1.2h-1.2zM951 355.65h1.2v1.2h-1.2zM959 355.65h1.2v1.2h-1.2zM968 355.65h1.2v1.2h-1.2zM977 355.65h1.2v1.2h-1.2zM986 355.65h1.2v1.2h-1.2zM995 355.65h1.2v1.2h-1.2zM1003 355.65h1.2v1.2h-1.2zM1012 355.65h1.2v1.2h-1.2zM1021 355.65h1.2v1.2h-1.2zM1030 355.65h1.2v1.2h-1.2zM1039 355.65h1.2v1.2h-1.2zM1047 355.65h1.2v1.2h-1.2zM1056 355.65h1.2v1.2h-1.2zM18 369.4h1.2v1.2h-1.2zM62 369.4h1.2v1.2h-1.2zM106 369.4h1.2v1.2h-1.2zM150 369.4h1.2v1.2h-1.2zM194 369.4h1.2v1.2h-1.2zM238 369.4h1.2v1.2h-1.2zM282 369.4h1.2v1.2h-1.2zM326 369.4h1.2v1.2h-1.2zM370 369.4h1.2v1.2h-1.2zM414 369.4h1.2v1.2h-1.2zM458 369.4h1.2v1.2h-1.2zM502 369.4h1.2v1.2h-1.2zM546 369.4h1.2v1.2h-1.2zM581 369.4h1.2v1.2h-1.2zM625 369.4h1.2v1.2h-1.2zM669 369.4h1.2v1.2h-1.2zM713 369.4h1.2v1.2h-1.2zM0 383.15h1.2v1.2h-1.2zM9 383.15h1.2v1.2h-1.2zM18 383.15h1.2v1.2h-1.2zM27 383.15h1.2v1.2h-1.2zM35 383.15h1.2v1.2h-1.2zM44 383.15h1.2v1.2h-1.2zM53 383.15h1.2v1.2h-1.2zM62 383.15h1.2v1.2h-1.2zM71 383.15h1.2v1.2h-1.2zM79 383.15h1.2v1.2h-1.2zM88 383.15h1.2v1.2h-1.2zM97 383.15h1.2v1.2h-1.2zM106 383.15h1.2v1.2h-1.2zM115 383.15h1.2v1.2h-1.2zM123 383.15h1.2v1.2h-1.2zM132 383.15h1.2v1.2h-1.2zM141 383.15h1.2v1.2h-1.2zM150 383.15h1.2v1.2h-1.2zM159 383.15h1.2v1.2h-1.2zM167 383.15h1.2v1.2h-1.2zM176 383.15h1.2v1.2h-1.2zM185 383.15h1.2v1.2h-1.2zM194 383.15h1.2v1.2h-1.2zM203 383.15h1.2v1.2h-1.2zM211 383.15h1.2v1.2h-1.2zM220 383.15h1.2v1.2h-1.2zM229 383.15h1.2v1.2h-1.2zM238 383.15h1.2v1.2h-1.2zM247 383.15h1.2v1.2h-1.2zM255 383.15h1.2v1.2h-1.2zM264 383.15h1.2v1.2h-1.2zM273 383.15h1.2v1.2h-1.2zM282 383.15h1.2v1.2h-1.2zM291 383.15h1.2v1.2h-1.2zM299 383.15h1.2v1.2h-1.2zM308 383.15h1.2v1.2h-1.2zM317 383.15h1.2v1.2h-1.2zM326 383.15h1.2v1.2h-1.2zM335 383.15h1.2v1.2h-1.2zM343 383.15h1.2v1.2h-1.2zM352 383.15h1.2v1.2h-1.2zM361 383.15h1.2v1.2h-1.2zM370 383.15h1.2v1.2h-1.2zM379 383.15h1.2v1.2h-1.2zM387 383.15h1.2v1.2h-1.2zM396 383.15h1.2v1.2h-1.2zM405 383.15h1.2v1.2h-1.2zM414 383.15h1.2v1.2h-1.2zM423 383.15h1.2v1.2h-1.2zM431 383.15h1.2v1.2h-1.2zM440 383.15h1.2v1.2h-1.2zM449 383.15h1.2v1.2h-1.2zM458 383.15h1.2v1.2h-1.2zM467 383.15h1.2v1.2h-1.2zM475 383.15h1.2v1.2h-1.2zM484 383.15h1.2v1.2h-1.2zM493 383.15h1.2v1.2h-1.2zM502 383.15h1.2v1.2h-1.2zM511 383.15h1.2v1.2h-1.2zM519 383.15h1.2v1.2h-1.2zM528 383.15h1.2v1.2h-1.2zM537 383.15h1.2v1.2h-1.2zM546 383.15h1.2v1.2h-1.2zM555 383.15h1.2v1.2h-1.2zM563 383.15h1.2v1.2h-1.2zM572 383.15h1.2v1.2h-1.2zM581 383.15h1.2v1.2h-1.2zM590 383.15h1.2v1.2h-1.2zM599 383.15h1.2v1.2h-1.2zM607 383.15h1.2v1.2h-1.2zM616 383.15h1.2v1.2h-1.2zM625 383.15h1.2v1.2h-1.2zM634 383.15h1.2v1.2h-1.2zM643 383.15h1.2v1.2h-1.2zM651 383.15h1.2v1.2h-1.2zM660 383.15h1.2v1.2h-1.2zM669 383.15h1.2v1.2h-1.2zM678 383.15h1.2v1.2h-1.2zM687 383.15h1.2v1.2h-1.2zM695 383.15h1.2v1.2h-1.2zM704 383.15h1.2v1.2h-1.2zM713 383.15h1.2v1.2h-1.2zM722 383.15h1.2v1.2h-1.2zM731 383.15h1.2v1.2h-1.2zM739 383.15h1.2v1.2h-1.2zM748 383.15h1.2v1.2h-1.2zM757 383.15h1.2v1.2h-1.2zM766 383.15h1.2v1.2h-1.2zM775 383.15h1.2v1.2h-1.2zM783 383.15h1.2v1.2h-1.2zM792 383.15h1.2v1.2h-1.2zM801 383.15h1.2v1.2h-1.2zM810 383.15h1.2v1.2h-1.2zM819 383.15h1.2v1.2h-1.2zM827 383.15h1.2v1.2h-1.2zM836 383.15h1.2v1.2h-1.2zM845 383.15h1.2v1.2h-1.2zM854 383.15h1.2v1.2h-1.2zM863 383.15h1.2v1.2h-1.2zM871 383.15h1.2v1.2h-1.2zM880 383.15h1.2v1.2h-1.2zM889 383.15h1.2v1.2h-1.2zM898 383.15h1.2v1.2h-1.2zM907 383.15h1.2v1.2h-1.2zM915 383.15h1.2v1.2h-1.2zM924 383.15h1.2v1.2h-1.2zM933 383.15h1.2v1.2h-1.2zM942 383.15h1.2v1.2h-1.2zM951 383.15h1.2v1.2h-1.2zM959 383.15h1.2v1.2h-1.2zM968 383.15h1.2v1.2h-1.2zM977 383.15h1.2v1.2h-1.2zM986 383.15h1.2v1.2h-1.2zM995 383.15h1.2v1.2h-1.2zM1003 383.15h1.2v1.2h-1.2zM1012 383.15h1.2v1.2h-1.2zM1021 383.15h1.2v1.2h-1.2zM1030 383.15h1.2v1.2h-1.2zM1039 383.15h1.2v1.2h-1.2zM1047 383.15h1.2v1.2h-1.2zM1056 383.15h1.2v1.2h-1.2zM18 396.9h1.2v1.2h-1.2zM62 396.9h1.2v1.2h-1.2zM106 396.9h1.2v1.2h-1.2zM150 396.9h1.2v1.2h-1.2zM194 396.9h1.2v1.2h-1.2zM238 396.9h1.2v1.2h-1.2zM282 396.9h1.2v1.2h-1.2zM326 396.9h1.2v1.2h-1.2zM370 396.9h1.2v1.2h-1.2zM414 396.9h1.2v1.2h-1.2zM458 396.9h1.2v1.2h-1.2zM502 396.9h1.2v1.2h-1.2zM546 396.9h1.2v1.2h-1.2zM581 396.9h1.2v1.2h-1.2zM625 396.9h1.2v1.2h-1.2zM669 396.9h1.2v1.2h-1.2zM713 396.9h1.2v1.2h-1.2zM0 410.65h1.2v1.2h-1.2zM9 410.65h1.2v1.2h-1.2zM18 410.65h1.2v1.2h-1.2zM27 410.65h1.2v1.2h-1.2zM35 410.65h1.2v1.2h-1.2zM44 410.65h1.2v1.2h-1.2zM53 410.65h1.2v1.2h-1.2zM62 410.65h1.2v1.2h-1.2zM71 410.65h1.2v1.2h-1.2zM79 410.65h1.2v1.2h-1.2zM88 410.65h1.2v1.2h-1.2zM97 410.65h1.2v1.2h-1.2zM106 410.65h1.2v1.2h-1.2zM115 410.65h1.2v1.2h-1.2zM123 410.65h1.2v1.2h-1.2zM132 410.65h1.2v1.2h-1.2zM141 410.65h1.2v1.2h-1.2zM150 410.65h1.2v1.2h-1.2zM159 410.65h1.2v1.2h-1.2zM167 410.65h1.2v1.2h-1.2zM176 410.65h1.2v1.2h-1.2zM185 410.65h1.2v1.2h-1.2zM194 410.65h1.2v1.2h-1.2zM203 410.65h1.2v1.2h-1.2zM211 410.65h1.2v1.2h-1.2zM220 410.65h1.2v1.2h-1.2zM229 410.65h1.2v1.2h-1.2zM238 410.65h1.2v1.2h-1.2zM247 410.65h1.2v1.2h-1.2zM255 410.65h1.2v1.2h-1.2zM264 410.65h1.2v1.2h-1.2zM273 410.65h1.2v1.2h-1.2zM282 410.65h1.2v1.2h-1.2zM291 410.65h1.2v1.2h-1.2zM299 410.65h1.2v1.2h-1.2zM308 410.65h1.2v1.2h-1.2zM317 410.65h1.2v1.2h-1.2zM326 410.65h1.2v1.2h-1.2zM335 410.65h1.2v1.2h-1.2zM343 410.65h1.2v1.2h-1.2zM352 410.65h1.2v1.2h-1.2zM361 410.65h1.2v1.2h-1.2zM370 410.65h1.2v1.2h-1.2zM379 410.65h1.2v1.2h-1.2zM387 410.65h1.2v1.2h-1.2zM396 410.65h1.2v1.2h-1.2zM405 410.65h1.2v1.2h-1.2zM414 410.65h1.2v1.2h-1.2zM423 410.65h1.2v1.2h-1.2zM431 410.65h1.2v1.2h-1.2zM440 410.65h1.2v1.2h-1.2zM449 410.65h1.2v1.2h-1.2zM458 410.65h1.2v1.2h-1.2zM467 410.65h1.2v1.2h-1.2zM475 410.65h1.2v1.2h-1.2zM484 410.65h1.2v1.2h-1.2zM493 410.65h1.2v1.2h-1.2zM502 410.65h1.2v1.2h-1.2zM511 410.65h1.2v1.2h-1.2zM519 410.65h1.2v1.2h-1.2zM528 410.65h1.2v1.2h-1.2zM537 410.65h1.2v1.2h-1.2zM546 410.65h1.2v1.2h-1.2zM555 410.65h1.2v1.2h-1.2zM563 410.65h1.2v1.2h-1.2zM572 410.65h1.2v1.2h-1.2zM581 410.65h1.2v1.2h-1.2zM590 410.65h1.2v1.2h-1.2zM599 410.65h1.2v1.2h-1.2zM607 410.65h1.2v1.2h-1.2zM616 410.65h1.2v1.2h-1.2zM625 410.65h1.2v1.2h-1.2zM634 410.65h1.2v1.2h-1.2zM643 410.65h1.2v1.2h-1.2zM651 410.65h1.2v1.2h-1.2zM660 410.65h1.2v1.2h-1.2zM669 410.65h1.2v1.2h-1.2zM678 410.65h1.2v1.2h-1.2zM687 410.65h1.2v1.2h-1.2zM695 410.65h1.2v1.2h-1.2zM704 410.65h1.2v1.2h-1.2zM713 410.65h1.2v1.2h-1.2zM722 410.65h1.2v1.2h-1.2zM731 410.65h1.2v1.2h-1.2zM739 410.65h1.2v1.2h-1.2zM748 410.65h1.2v1.2h-1.2zM757 410.65h1.2v1.2h-1.2zM766 410.65h1.2v1.2h-1.2zM775 410.65h1.2v1.2h-1.2zM783 410.65h1.2v1.2h-1.2zM792 410.65h1.2v1.2h-1.2zM801 410.65h1.2v1.2h-1.2zM810 410.65h1.2v1.2h-1.2zM819 410.65h1.2v1.2h-1.2zM827 410.65h1.2v1.2h-1.2zM836 410.65h1.2v1.2h-1.2zM845 410.65h1.2v1.2h-1.2zM854 410.65h1.2v1.2h-1.2zM863 410.65h1.2v1.2h-1.2zM871 410.65h1.2v1.2h-1.2zM880 410.65h1.2v1.2h-1.2zM889 410.65h1.2v1.2h-1.2zM898 410.65h1.2v1.2h-1.2zM907 410.65h1.2v1.2h-1.2zM915 410.65h1.2v1.2h-1.2zM924 410.65h1.2v1.2h-1.2zM933 410.65h1.2v1.2h-1.2zM942 410.65h1.2v1.2h-1.2zM951 410.65h1.2v1.2h-1.2zM959 410.65h1.2v1.2h-1.2zM968 410.65h1.2v1.2h-1.2zM977 410.65h1.2v1.2h-1.2zM986 410.65h1.2v1.2h-1.2zM995 410.65h1.2v1.2h-1.2zM1003 410.65h1.2v1.2h-1.2zM1012 410.65h1.2v1.2h-1.2zM1021 410.65h1.2v1.2h-1.2zM1030 410.65h1.2v1.2h-1.2zM1039 410.65h1.2v1.2h-1.2zM1047 410.65h1.2v1.2h-1.2zM1056 410.65h1.2v1.2h-1.2zM18 424.4h1.2v1.2h-1.2zM62 424.4h1.2v1.2h-1.2zM106 424.4h1.2v1.2h-1.2zM150 424.4h1.2v1.2h-1.2zM194 424.4h1.2v1.2h-1.2zM238 424.4h1.2v1.2h-1.2zM282 424.4h1.2v1.2h-1.2zM326 424.4h1.2v1.2h-1.2zM370 424.4h1.2v1.2h-1.2zM414 424.4h1.2v1.2h-1.2zM458 424.4h1.2v1.2h-1.2zM502 424.4h1.2v1.2h-1.2zM546 424.4h1.2v1.2h-1.2zM581 424.4h1.2v1.2h-1.2zM625 424.4h1.2v1.2h-1.2zM669 424.4h1.2v1.2h-1.2zM713 424.4h1.2v1.2h-1.2zM0 438.15h1.2v1.2h-1.2zM9 438.15h1.2v1.2h-1.2zM18 438.15h1.2v1.2h-1.2zM27 438.15h1.2v1.2h-1.2zM35 438.15h1.2v1.2h-1.2zM44 438.15h1.2v1.2h-1.2zM53 438.15h1.2v1.2h-1.2zM62 438.15h1.2v1.2h-1.2zM71 438.15h1.2v1.2h-1.2zM79 438.15h1.2v1.2h-1.2zM88 438.15h1.2v1.2h-1.2zM97 438.15h1.2v1.2h-1.2zM106 438.15h1.2v1.2h-1.2zM115 438.15h1.2v1.2h-1.2zM123 438.15h1.2v1.2h-1.2zM132 438.15h1.2v1.2h-1.2zM141 438.15h1.2v1.2h-1.2zM150 438.15h1.2v1.2h-1.2zM159 438.15h1.2v1.2h-1.2zM167 438.15h1.2v1.2h-1.2zM176 438.15h1.2v1.2h-1.2zM185 438.15h1.2v1.2h-1.2zM194 438.15h1.2v1.2h-1.2zM203 438.15h1.2v1.2h-1.2zM211 438.15h1.2v1.2h-1.2zM220 438.15h1.2v1.2h-1.2zM229 438.15h1.2v1.2h-1.2zM238 438.15h1.2v1.2h-1.2zM247 438.15h1.2v1.2h-1.2zM255 438.15h1.2v1.2h-1.2zM264 438.15h1.2v1.2h-1.2zM273 438.15h1.2v1.2h-1.2zM282 438.15h1.2v1.2h-1.2zM291 438.15h1.2v1.2h-1.2zM299 438.15h1.2v1.2h-1.2zM308 438.15h1.2v1.2h-1.2zM317 438.15h1.2v1.2h-1.2zM326 438.15h1.2v1.2h-1.2zM335 438.15h1.2v1.2h-1.2zM343 438.15h1.2v1.2h-1.2zM352 438.15h1.2v1.2h-1.2zM361 438.15h1.2v1.2h-1.2zM370 438.15h1.2v1.2h-1.2zM379 438.15h1.2v1.2h-1.2zM387 438.15h1.2v1.2h-1.2zM396 438.15h1.2v1.2h-1.2zM405 438.15h1.2v1.2h-1.2zM414 438.15h1.2v1.2h-1.2zM423 438.15h1.2v1.2h-1.2zM431 438.15h1.2v1.2h-1.2zM440 438.15h1.2v1.2h-1.2zM449 438.15h1.2v1.2h-1.2zM458 438.15h1.2v1.2h-1.2zM467 438.15h1.2v1.2h-1.2zM475 438.15h1.2v1.2h-1.2zM484 438.15h1.2v1.2h-1.2zM493 438.15h1.2v1.2h-1.2zM502 438.15h1.2v1.2h-1.2zM511 438.15h1.2v1.2h-1.2zM519 438.15h1.2v1.2h-1.2zM528 438.15h1.2v1.2h-1.2zM537 438.15h1.2v1.2h-1.2zM546 438.15h1.2v1.2h-1.2zM555 438.15h1.2v1.2h-1.2zM563 438.15h1.2v1.2h-1.2zM572 438.15h1.2v1.2h-1.2zM581 438.15h1.2v1.2h-1.2zM590 438.15h1.2v1.2h-1.2zM599 438.15h1.2v1.2h-1.2zM607 438.15h1.2v1.2h-1.2zM616 438.15h1.2v1.2h-1.2zM625 438.15h1.2v1.2h-1.2zM634 438.15h1.2v1.2h-1.2zM643 438.15h1.2v1.2h-1.2zM651 438.15h1.2v1.2h-1.2zM660 438.15h1.2v1.2h-1.2zM669 438.15h1.2v1.2h-1.2zM678 438.15h1.2v1.2h-1.2zM687 438.15h1.2v1.2h-1.2zM695 438.15h1.2v1.2h-1.2zM704 438.15h1.2v1.2h-1.2zM713 438.15h1.2v1.2h-1.2zM722 438.15h1.2v1.2h-1.2zM731 438.15h1.2v1.2h-1.2zM739 438.15h1.2v1.2h-1.2zM748 438.15h1.2v1.2h-1.2zM757 438.15h1.2v1.2h-1.2zM766 438.15h1.2v1.2h-1.2zM775 438.15h1.2v1.2h-1.2zM783 438.15h1.2v1.2h-1.2zM792 438.15h1.2v1.2h-1.2zM801 438.15h1.2v1.2h-1.2zM810 438.15h1.2v1.2h-1.2zM819 438.15h1.2v1.2h-1.2zM827 438.15h1.2v1.2h-1.2zM836 438.15h1.2v1.2h-1.2zM845 438.15h1.2v1.2h-1.2zM854 438.15h1.2v1.2h-1.2zM863 438.15h1.2v1.2h-1.2zM871 438.15h1.2v1.2h-1.2zM880 438.15h1.2v1.2h-1.2zM889 438.15h1.2v1.2h-1.2zM898 438.15h1.2v1.2h-1.2zM907 438.15h1.2v1.2h-1.2zM915 438.15h1.2v1.2h-1.2zM924 438.15h1.2v1.2h-1.2zM933 438.15h1.2v1.2h-1.2zM942 438.15h1.2v1.2h-1.2zM951 438.15h1.2v1.2h-1.2zM959 438.15h1.2v1.2h-1.2zM968 438.15h1.2v1.2h-1.2zM977 438.15h1.2v1.2h-1.2zM986 438.15h1.2v1.2h-1.2zM995 438.15h1.2v1.2h-1.2zM1003 438.15h1.2v1.2h-1.2zM1012 438.15h1.2v1.2h-1.2zM1021 438.15h1.2v1.2h-1.2zM1030 438.15h1.2v1.2h-1.2zM1039 438.15h1.2v1.2h-1.2zM1047 438.15h1.2v1.2h-1.2zM1056 438.15h1.2v1.2h-1.2zM18 451.9h1.2v1.2h-1.2zM62 451.9h1.2v1.2h-1.2zM106 451.9h1.2v1.2h-1.2zM150 451.9h1.2v1.2h-1.2zM194 451.9h1.2v1.2h-1.2zM238 451.9h1.2v1.2h-1.2zM282 451.9h1.2v1.2h-1.2zM326 451.9h1.2v1.2h-1.2zM370 451.9h1.2v1.2h-1.2zM414 451.9h1.2v1.2h-1.2zM458 451.9h1.2v1.2h-1.2zM502 451.9h1.2v1.2h-1.2zM546 451.9h1.2v1.2h-1.2zM581 451.9h1.2v1.2h-1.2zM625 451.9h1.2v1.2h-1.2zM669 451.9h1.2v1.2h-1.2zM713 451.9h1.2v1.2h-1.2zM0 465.65h1.2v1.2h-1.2zM9 465.65h1.2v1.2h-1.2zM18 465.65h1.2v1.2h-1.2zM27 465.65h1.2v1.2h-1.2zM35 465.65h1.2v1.2h-1.2zM44 465.65h1.2v1.2h-1.2zM53 465.65h1.2v1.2h-1.2zM62 465.65h1.2v1.2h-1.2zM71 465.65h1.2v1.2h-1.2zM79 465.65h1.2v1.2h-1.2zM88 465.65h1.2v1.2h-1.2zM97 465.65h1.2v1.2h-1.2zM106 465.65h1.2v1.2h-1.2zM115 465.65h1.2v1.2h-1.2zM123 465.65h1.2v1.2h-1.2zM132 465.65h1.2v1.2h-1.2zM141 465.65h1.2v1.2h-1.2zM150 465.65h1.2v1.2h-1.2zM159 465.65h1.2v1.2h-1.2zM167 465.65h1.2v1.2h-1.2zM176 465.65h1.2v1.2h-1.2zM185 465.65h1.2v1.2h-1.2zM194 465.65h1.2v1.2h-1.2zM203 465.65h1.2v1.2h-1.2zM211 465.65h1.2v1.2h-1.2zM220 465.65h1.2v1.2h-1.2zM229 465.65h1.2v1.2h-1.2zM238 465.65h1.2v1.2h-1.2zM247 465.65h1.2v1.2h-1.2zM255 465.65h1.2v1.2h-1.2zM264 465.65h1.2v1.2h-1.2zM273 465.65h1.2v1.2h-1.2zM282 465.65h1.2v1.2h-1.2zM291 465.65h1.2v1.2h-1.2zM299 465.65h1.2v1.2h-1.2zM308 465.65h1.2v1.2h-1.2zM317 465.65h1.2v1.2h-1.2zM326 465.65h1.2v1.2h-1.2zM335 465.65h1.2v1.2h-1.2zM343 465.65h1.2v1.2h-1.2zM352 465.65h1.2v1.2h-1.2zM361 465.65h1.2v1.2h-1.2zM370 465.65h1.2v1.2h-1.2zM379 465.65h1.2v1.2h-1.2zM387 465.65h1.2v1.2h-1.2zM396 465.65h1.2v1.2h-1.2zM405 465.65h1.2v1.2h-1.2zM414 465.65h1.2v1.2h-1.2zM423 465.65h1.2v1.2h-1.2zM431 465.65h1.2v1.2h-1.2zM440 465.65h1.2v1.2h-1.2zM449 465.65h1.2v1.2h-1.2zM458 465.65h1.2v1.2h-1.2zM467 465.65h1.2v1.2h-1.2zM475 465.65h1.2v1.2h-1.2zM484 465.65h1.2v1.2h-1.2zM493 465.65h1.2v1.2h-1.2zM502 465.65h1.2v1.2h-1.2zM511 465.65h1.2v1.2h-1.2zM519 465.65h1.2v1.2h-1.2zM528 465.65h1.2v1.2h-1.2zM537 465.65h1.2v1.2h-1.2zM546 465.65h1.2v1.2h-1.2zM555 465.65h1.2v1.2h-1.2zM563 465.65h1.2v1.2h-1.2zM572 465.65h1.2v1.2h-1.2zM581 465.65h1.2v1.2h-1.2zM590 465.65h1.2v1.2h-1.2zM599 465.65h1.2v1.2h-1.2zM607 465.65h1.2v1.2h-1.2zM616 465.65h1.2v1.2h-1.2zM625 465.65h1.2v1.2h-1.2zM634 465.65h1.2v1.2h-1.2zM643 465.65h1.2v1.2h-1.2zM651 465.65h1.2v1.2h-1.2zM660 465.65h1.2v1.2h-1.2zM669 465.65h1.2v1.2h-1.2zM678 465.65h1.2v1.2h-1.2zM687 465.65h1.2v1.2h-1.2zM695 465.65h1.2v1.2h-1.2zM704 465.65h1.2v1.2h-1.2zM713 465.65h1.2v1.2h-1.2zM722 465.65h1.2v1.2h-1.2zM731 465.65h1.2v1.2h-1.2zM739 465.65h1.2v1.2h-1.2zM748 465.65h1.2v1.2h-1.2zM757 465.65h1.2v1.2h-1.2zM766 465.65h1.2v1.2h-1.2zM775 465.65h1.2v1.2h-1.2zM783 465.65h1.2v1.2h-1.2zM792 465.65h1.2v1.2h-1.2zM801 465.65h1.2v1.2h-1.2zM810 465.65h1.2v1.2h-1.2zM819 465.65h1.2v1.2h-1.2zM827 465.65h1.2v1.2h-1.2zM836 465.65h1.2v1.2h-1.2zM845 465.65h1.2v1.2h-1.2zM854 465.65h1.2v1.2h-1.2zM863 465.65h1.2v1.2h-1.2zM871 465.65h1.2v1.2h-1.2zM880 465.65h1.2v1.2h-1.2zM889 465.65h1.2v1.2h-1.2zM898 465.65h1.2v1.2h-1.2zM907 465.65h1.2v1.2h-1.2zM915 465.65h1.2v1.2h-1.2zM924 465.65h1.2v1.2h-1.2zM933 465.65h1.2v1.2h-1.2zM942 465.65h1.2v1.2h-1.2zM951 465.65h1.2v1.2h-1.2zM959 465.65h1.2v1.2h-1.2zM968 465.65h1.2v1.2h-1.2zM977 465.65h1.2v1.2h-1.2zM986 465.65h1.2v1.2h-1.2zM995 465.65h1.2v1.2h-1.2zM1003 465.65h1.2v1.2h-1.2zM1012 465.65h1.2v1.2h-1.2zM1021 465.65h1.2v1.2h-1.2zM1030 465.65h1.2v1.2h-1.2zM1039 465.65h1.2v1.2h-1.2zM1047 465.65h1.2v1.2h-1.2zM1056 465.65h1.2v1.2h-1.2zM18 479.4h1.2v1.2h-1.2zM62 479.4h1.2v1.2h-1.2zM106 479.4h1.2v1.2h-1.2zM150 479.4h1.2v1.2h-1.2zM194 479.4h1.2v1.2h-1.2zM238 479.4h1.2v1.2h-1.2zM282 479.4h1.2v1.2h-1.2zM326 479.4h1.2v1.2h-1.2zM370 479.4h1.2v1.2h-1.2zM414 479.4h1.2v1.2h-1.2zM458 479.4h1.2v1.2h-1.2zM502 479.4h1.2v1.2h-1.2zM546 479.4h1.2v1.2h-1.2zM581 479.4h1.2v1.2h-1.2zM625 479.4h1.2v1.2h-1.2zM669 479.4h1.2v1.2h-1.2zM713 479.4h1.2v1.2h-1.2zM0 493.15h1.2v1.2h-1.2zM9 493.15h1.2v1.2h-1.2zM18 493.15h1.2v1.2h-1.2zM27 493.15h1.2v1.2h-1.2zM35 493.15h1.2v1.2h-1.2zM44 493.15h1.2v1.2h-1.2zM53 493.15h1.2v1.2h-1.2zM62 493.15h1.2v1.2h-1.2zM71 493.15h1.2v1.2h-1.2zM79 493.15h1.2v1.2h-1.2zM88 493.15h1.2v1.2h-1.2zM97 493.15h1.2v1.2h-1.2zM106 493.15h1.2v1.2h-1.2zM115 493.15h1.2v1.2h-1.2zM123 493.15h1.2v1.2h-1.2zM132 493.15h1.2v1.2h-1.2zM141 493.15h1.2v1.2h-1.2zM150 493.15h1.2v1.2h-1.2zM159 493.15h1.2v1.2h-1.2zM167 493.15h1.2v1.2h-1.2zM176 493.15h1.2v1.2h-1.2zM185 493.15h1.2v1.2h-1.2zM194 493.15h1.2v1.2h-1.2zM203 493.15h1.2v1.2h-1.2zM211 493.15h1.2v1.2h-1.2zM220 493.15h1.2v1.2h-1.2zM229 493.15h1.2v1.2h-1.2zM238 493.15h1.2v1.2h-1.2zM247 493.15h1.2v1.2h-1.2zM255 493.15h1.2v1.2h-1.2zM264 493.15h1.2v1.2h-1.2zM273 493.15h1.2v1.2h-1.2zM282 493.15h1.2v1.2h-1.2zM291 493.15h1.2v1.2h-1.2zM299 493.15h1.2v1.2h-1.2zM308 493.15h1.2v1.2h-1.2zM317 493.15h1.2v1.2h-1.2zM326 493.15h1.2v1.2h-1.2zM335 493.15h1.2v1.2h-1.2zM343 493.15h1.2v1.2h-1.2zM352 493.15h1.2v1.2h-1.2zM361 493.15h1.2v1.2h-1.2zM370 493.15h1.2v1.2h-1.2zM379 493.15h1.2v1.2h-1.2zM387 493.15h1.2v1.2h-1.2zM396 493.15h1.2v1.2h-1.2zM405 493.15h1.2v1.2h-1.2zM414 493.15h1.2v1.2h-1.2zM423 493.15h1.2v1.2h-1.2zM431 493.15h1.2v1.2h-1.2zM440 493.15h1.2v1.2h-1.2zM449 493.15h1.2v1.2h-1.2zM458 493.15h1.2v1.2h-1.2zM467 493.15h1.2v1.2h-1.2zM475 493.15h1.2v1.2h-1.2zM484 493.15h1.2v1.2h-1.2zM493 493.15h1.2v1.2h-1.2zM502 493.15h1.2v1.2h-1.2zM511 493.15h1.2v1.2h-1.2zM519 493.15h1.2v1.2h-1.2zM528 493.15h1.2v1.2h-1.2zM537 493.15h1.2v1.2h-1.2zM546 493.15h1.2v1.2h-1.2zM555 493.15h1.2v1.2h-1.2zM563 493.15h1.2v1.2h-1.2zM572 493.15h1.2v1.2h-1.2zM581 493.15h1.2v1.2h-1.2zM590 493.15h1.2v1.2h-1.2zM599 493.15h1.2v1.2h-1.2zM607 493.15h1.2v1.2h-1.2zM616 493.15h1.2v1.2h-1.2zM625 493.15h1.2v1.2h-1.2zM634 493.15h1.2v1.2h-1.2zM643 493.15h1.2v1.2h-1.2zM651 493.15h1.2v1.2h-1.2zM660 493.15h1.2v1.2h-1.2zM669 493.15h1.2v1.2h-1.2zM678 493.15h1.2v1.2h-1.2zM687 493.15h1.2v1.2h-1.2zM695 493.15h1.2v1.2h-1.2zM704 493.15h1.2v1.2h-1.2zM713 493.15h1.2v1.2h-1.2zM722 493.15h1.2v1.2h-1.2zM731 493.15h1.2v1.2h-1.2zM739 493.15h1.2v1.2h-1.2zM748 493.15h1.2v1.2h-1.2zM757 493.15h1.2v1.2h-1.2zM766 493.15h1.2v1.2h-1.2zM775 493.15h1.2v1.2h-1.2zM783 493.15h1.2v1.2h-1.2zM792 493.15h1.2v1.2h-1.2zM801 493.15h1.2v1.2h-1.2zM810 493.15h1.2v1.2h-1.2zM819 493.15h1.2v1.2h-1.2zM827 493.15h1.2v1.2h-1.2zM836 493.15h1.2v1.2h-1.2zM845 493.15h1.2v1.2h-1.2zM854 493.15h1.2v1.2h-1.2zM863 493.15h1.2v1.2h-1.2zM871 493.15h1.2v1.2h-1.2zM880 493.15h1.2v1.2h-1.2zM889 493.15h1.2v1.2h-1.2zM898 493.15h1.2v1.2h-1.2zM907 493.15h1.2v1.2h-1.2zM915 493.15h1.2v1.2h-1.2zM924 493.15h1.2v1.2h-1.2zM933 493.15h1.2v1.2h-1.2zM942 493.15h1.2v1.2h-1.2zM951 493.15h1.2v1.2h-1.2zM959 493.15h1.2v1.2h-1.2zM968 493.15h1.2v1.2h-1.2zM977 493.15h1.2v1.2h-1.2zM986 493.15h1.2v1.2h-1.2zM995 493.15h1.2v1.2h-1.2zM1003 493.15h1.2v1.2h-1.2zM1012 493.15h1.2v1.2h-1.2zM1021 493.15h1.2v1.2h-1.2zM1030 493.15h1.2v1.2h-1.2zM1039 493.15h1.2v1.2h-1.2zM1047 493.15h1.2v1.2h-1.2zM1056 493.15h1.2v1.2h-1.2z" fill="#8a8a8a"/>
<line x1="18.5" y1="20" x2="18.5" y2="578" stroke="#8a8a8a" stroke-width="1" stroke-dasharray="1 1.6"/>
<line x1="211.5" y1="20" x2="211.5" y2="578" stroke="#8a8a8a" stroke-width="1" stroke-dasharray="1 1.6"/>
<line x1="405.5" y1="20" x2="405.5" y2="578" stroke="#8a8a8a" stroke-width="1" stroke-dasharray="1 1.6"/>
<line x1="581.5" y1="20" x2="581.5" y2="578" stroke="#8a8a8a" stroke-width="1" stroke-dasharray="1 1.6"/>
<rect x="1.5" y="287" width="1063" height="1.8" fill="#8c8cff"/>
<line x1="1.3" y1="472.4" x2="1022.3" y2="168.4" stroke="#2e2eff" stroke-width="1"/>
<line x1="447.3" y1="513.8" x2="1065" y2="296.3" stroke="#ff3a3a" stroke-width="1"/>
<polyline points="9.7,387 34.5,376.7 62.2,369.8 79.4,368.4 96.7,366.3 114,362.9 131.3,358.7 155.4,351.8 179.6,348.4 210.7,344.9 238.3,341.5 259,338 283.2,332.8 310.9,325.9 335,320 359.2,312.1 370,308.7 391.3,303.3 416.1,298 440.9,294.5 462.2,290.2 487,283.8 518.9,275 547.3,266.1 582.8,258.3 618.2,253.7 653.7,249.4 689.1,245.5 717.5,240.6 749.4,237" fill="none" stroke="#66dd66" stroke-width="1.1"/>
<polyline points="211.8,343.3 370.6,109 440.8,282.2 511.2,69 669.6,264.2 713.4,100.4 802.3,231.8" fill="none" stroke="#8a0000" stroke-width="2.3" stroke-linejoin="round" stroke-linecap="round"/>
<rect x="1.5" y="106.4" width="845" height="1.7" fill="#111"/>
<polyline points="8.9,213.8 17.3,206.6 26.6,200.9 35.2,197.5 43.9,194.7 48.9,196.5 53.2,198.7 61.8,201.3 70.5,211.6 79.1,223.1 87.7,227.2 97.1,237.5 105.7,237.8 114.3,240.1 123,235.4 131.6,232.9 140.2,226.3 149.6,221.7 158.7,221 163.7,223.9 171.6,231.1 184.6,239.7 192.5,239.7 201.8,242.6 210.4,246.2 219.8,249 228.4,251.5 237,251.2 245.7,250.5 254.3,248.7 264.4,244.7 273,238.2 281.6,235.4 288.8,231.8 299.3,223.3 308.7,217.5 313.7,218.2 323.1,217.2 334.6,213.9 343.2,208.9 351.8,203.1 361.9,194.5 370.5,191.4 379.2,185.9 387.8,183.7 396.4,185.9 405.1,183.3 413.7,180.4 420.9,182.3 430.9,188 440.8,189.1 449.4,185.5 458,184.1 466.6,183.4 475.3,182.6 483.9,176.2 492.5,169 502.6,161.8 511.2,156 519.9,151 528.5,145.7 537.1,140.6 545.7,140.5 554.4,138 563,135.2 571.6,136.2 580,135.5 588.6,135.8 597.3,135.8 605.9,137.3 614.5,141.6 624.6,148.8 633.9,155.7 641.8,156 650.5,153.8 660.5,159.1 669.2,165.3 677.8,168.2 687.1,170.3 693.6,167.5 703.7,166.3 712.3,162.4 721.5,158.6 748.5,162" fill="none" stroke="#ff0000" stroke-width="1.8" stroke-linejoin="round"/>
<polyline points="8.9,265.1 17.3,259.1 26.6,253.4 35.2,248.7 43.9,245.4 53.2,245 61.8,244.4 70.5,248.7 79.1,251.9 87.7,252.6 97.1,255.1 105.7,255.1 114.3,255.1 123,253.4 131.6,250.5 140.2,246.4 149.6,243 158.7,241.8 163.7,243.3 171.6,246.2 184.6,248.7 192.5,247.9 201.8,248.7 210.4,250.5 219.8,252.6 228.4,252.9 237,252.9 245.7,251.9 254.3,250.9 264.4,249.3 273,246.4 281.6,244.7 288.8,241.8 299.3,237.7 308.7,233.3 318.8,232.3 333.1,229.8 343.2,226.2 351.8,222.1 361.9,217.5 370.5,213.5 379.2,210.3 387.8,208.6 396.4,208.2 405.1,207.2 415.1,202.4 423.8,202.9 430.9,203.9 440,204.6 453.7,199.9 466.6,199.2 475.3,197 483.9,192.7 492.5,188.4 502.6,183.4 511.2,179.8 519.9,175.9 528.5,172.1 537.1,168.7 545.7,167.5 554.4,164.9 564.4,161.1 573.1,160.6 580,161 588.6,159.6 597.3,157.7 605.9,157.7 614.5,158.5 624.6,161.7 633.9,163.9 641.8,163.6 650.5,162.7 660.5,163.1 669.2,168.2 677.8,168.9 687.1,170 693.6,168.9 703.7,167.5 712.3,165.3 722.4,163.3 748.5,164.8" fill="none" stroke="#0000ff" stroke-width="1.8" stroke-linejoin="round"/>
<rect x="9" y="133" width="1.1" height="28" fill="#505050"/><rect x="6.9" y="138" width="5.2" height="16.9" fill="#ff0000" stroke="#111" stroke-width="1"/><rect x="18" y="120.8" width="1.1" height="40.7" fill="#505050"/><rect x="15.9" y="125.5" width="5.2" height="26" fill="#00ff00" stroke="#111" stroke-width="1"/><rect x="27" y="123.6" width="1.1" height="51.2" fill="#505050"/><rect x="24.9" y="125.5" width="5.2" height="23.8" fill="#ff0000" stroke="#111" stroke-width="1"/><rect x="35" y="150.8" width="1.1" height="53.1" fill="#505050"/><rect x="32.9" y="151.3" width="5.2" height="20.9" fill="#ff0000" stroke="#111" stroke-width="1"/><rect x="44" y="153.5" width="1.1" height="28" fill="#505050"/><rect x="41.9" y="165.2" width="5.2" height="7" fill="#00ff00" stroke="#111" stroke-width="1"/><rect x="53" y="153.5" width="1.1" height="104.7" fill="#505050"/><rect x="50.9" y="165.2" width="5.2" height="77.3" fill="#ff0000" stroke="#111" stroke-width="1"/><rect x="62" y="211.2" width="1.1" height="45.4" fill="#505050"/><rect x="59.9" y="224.8" width="5.2" height="10.4" fill="#00ff00" stroke="#111" stroke-width="1"/><rect x="71" y="223.4" width="1.1" height="101" fill="#505050"/><rect x="68.9" y="225.8" width="5.2" height="95.7" fill="#ff0000" stroke="#111" stroke-width="1"/><rect x="79" y="294.8" width="1.1" height="37.8" fill="#505050"/><rect x="76.9" y="317.5" width="5.2" height="10.8" fill="#ff0000" stroke="#111" stroke-width="1"/><rect x="88" y="255.5" width="1.1" height="77.4" fill="#505050"/><rect x="85.9" y="262.5" width="5.2" height="59" fill="#00ff00" stroke="#111" stroke-width="1"/><rect x="97" y="270" width="1.1" height="78.9" fill="#505050"/><rect x="94.9" y="283.7" width="5.2" height="37" fill="#ff0000" stroke="#111" stroke-width="1"/><rect x="106" y="235.7" width="1.1" height="100.1" fill="#505050"/><rect x="103.9" y="250.8" width="5.2" height="67.4" fill="#00ff00" stroke="#111" stroke-width="1"/><rect x="115" y="244" width="1.1" height="39.5" fill="#505050"/><rect x="112.4" y="254.5" width="6.2" height="1.5" fill="#222"/><rect x="123" y="164" width="1.1" height="130.4" fill="#505050"/><rect x="120.9" y="184.8" width="5.2" height="70.1" fill="#00ff00" stroke="#111" stroke-width="1"/><rect x="132" y="165.3" width="1.1" height="62.4" fill="#505050"/><rect x="129.9" y="181.5" width="5.2" height="31.6" fill="#ff0000" stroke="#111" stroke-width="1"/><rect x="141" y="145" width="1.1" height="78.7" fill="#505050"/><rect x="138.9" y="165.3" width="5.2" height="53.2" fill="#00ff00" stroke="#111" stroke-width="1"/><rect x="150" y="144" width="1.1" height="37.6" fill="#505050"/><rect x="147.9" y="170.5" width="5.2" height="6.5" fill="#ff0000" stroke="#111" stroke-width="1"/><rect x="159" y="161.2" width="1.1" height="48.4" fill="#505050"/><rect x="156.9" y="180.2" width="5.2" height="23.4" fill="#ff0000" stroke="#111" stroke-width="1"/><rect x="167" y="193" width="1.1" height="101.4" fill="#505050"/><rect x="164.9" y="204.6" width="5.2" height="85.1" fill="#ff0000" stroke="#111" stroke-width="1"/><rect x="176" y="277" width="1.1" height="69.7" fill="#505050"/><rect x="173.9" y="284.8" width="5.2" height="19" fill="#ff0000" stroke="#111" stroke-width="1"/><rect x="185" y="279.8" width="1.1" height="46.1" fill="#505050"/><rect x="182.9" y="295.3" width="5.2" height="4.8" fill="#00ff00" stroke="#111" stroke-width="1"/><rect x="194" y="213.6" width="1.1" height="94.2" fill="#505050"/><rect x="191.9" y="231.3" width="5.2" height="61" fill="#00ff00" stroke="#111" stroke-width="1"/><rect x="203" y="226.4" width="1.1" height="57.6" fill="#505050"/><rect x="200.9" y="233.1" width="5.2" height="37.2" fill="#ff0000" stroke="#111" stroke-width="1"/><rect x="211" y="271.9" width="1.1" height="74.4" fill="#505050"/><rect x="208.9" y="279.6" width="5.2" height="12.2" fill="#ff0000" stroke="#111" stroke-width="1"/><rect x="220" y="260.3" width="1.1" height="56.8" fill="#505050"/><rect x="217.9" y="275.1" width="5.2" height="10" fill="#00ff00" stroke="#111" stroke-width="1"/><rect x="229" y="262.5" width="1.1" height="71.1" fill="#505050"/><rect x="226.4" y="272.5" width="6.2" height="1.5" fill="#222"/><rect x="238" y="219" width="1.1" height="112.5" fill="#505050"/><rect x="235.9" y="237.7" width="5.2" height="91.2" fill="#00ff00" stroke="#111" stroke-width="1"/><rect x="247" y="211" width="1.1" height="45.3" fill="#505050"/><rect x="244.9" y="241.8" width="5.2" height="8.5" fill="#ff0000" stroke="#111" stroke-width="1"/><rect x="255" y="218.2" width="1.1" height="42.1" fill="#505050"/><rect x="252.9" y="230.5" width="5.2" height="18.5" fill="#00ff00" stroke="#111" stroke-width="1"/><rect x="264" y="199.2" width="1.1" height="55.2" fill="#505050"/><rect x="261.9" y="203.3" width="5.2" height="20.7" fill="#00ff00" stroke="#111" stroke-width="1"/><rect x="273" y="173.4" width="1.1" height="36.2" fill="#505050"/><rect x="270.9" y="176.1" width="5.2" height="24.8" fill="#00ff00" stroke="#111" stroke-width="1"/><rect x="282" y="159.9" width="1.1" height="44" fill="#505050"/><rect x="279.9" y="177.2" width="5.2" height="22.1" fill="#ff0000" stroke="#111" stroke-width="1"/><rect x="291" y="183.8" width="1.1" height="39.9" fill="#505050"/><rect x="288.9" y="188.9" width="5.2" height="9" fill="#00ff00" stroke="#111" stroke-width="1"/><rect x="299" y="148.5" width="1.1" height="48.8" fill="#505050"/><rect x="296.9" y="165" width="5.2" height="20.7" fill="#00ff00" stroke="#111" stroke-width="1"/><rect x="308" y="150.4" width="1.1" height="43.4" fill="#505050"/><rect x="305.9" y="159.8" width="5.2" height="1.2" fill="#ff0000" stroke="#111" stroke-width="1"/><rect x="317" y="158.5" width="1.1" height="101.8" fill="#505050"/><rect x="314.9" y="160.9" width="5.2" height="68.5" fill="#ff0000" stroke="#111" stroke-width="1"/><rect x="326" y="170.7" width="1.1" height="51.1" fill="#505050"/><rect x="323.9" y="188.3" width="5.2" height="26.2" fill="#00ff00" stroke="#111" stroke-width="1"/><rect x="335" y="148.4" width="1.1" height="48.8" fill="#505050"/><rect x="332.9" y="188.8" width="5.2" height="2.5" fill="#00ff00" stroke="#111" stroke-width="1"/><rect x="343" y="149.2" width="1.1" height="68.4" fill="#505050"/><rect x="340.9" y="163.8" width="5.2" height="20.7" fill="#00ff00" stroke="#111" stroke-width="1"/><rect x="352" y="124" width="1.1" height="72.4" fill="#505050"/><rect x="349.9" y="144.8" width="5.2" height="18.8" fill="#00ff00" stroke="#111" stroke-width="1"/><rect x="361" y="124.8" width="1.1" height="29.8" fill="#505050"/><rect x="358.9" y="132.6" width="5.2" height="8.5" fill="#00ff00" stroke="#111" stroke-width="1"/><rect x="370" y="108.5" width="1.1" height="54.3" fill="#505050"/><rect x="367.9" y="128" width="5.2" height="21.2" fill="#ff0000" stroke="#111" stroke-width="1"/><rect x="379" y="126.7" width="1.1" height="68.6" fill="#505050"/><rect x="376.9" y="131.2" width="5.2" height="21.3" fill="#00ff00" stroke="#111" stroke-width="1"/><rect x="387" y="129.4" width="1.1" height="59.7" fill="#505050"/><rect x="384.9" y="133.9" width="5.2" height="31.1" fill="#ff0000" stroke="#111" stroke-width="1"/><rect x="396" y="157.9" width="1.1" height="88.2" fill="#505050"/><rect x="393.9" y="168.7" width="5.2" height="51" fill="#ff0000" stroke="#111" stroke-width="1"/><rect x="405" y="158.4" width="1.1" height="58" fill="#505050"/><rect x="402.9" y="159.7" width="5.2" height="49.9" fill="#00ff00" stroke="#111" stroke-width="1"/><rect x="414" y="122" width="1.1" height="46.7" fill="#505050"/><rect x="411.9" y="138.8" width="5.2" height="26.7" fill="#00ff00" stroke="#111" stroke-width="1"/><rect x="423" y="131.3" width="1.1" height="82.2" fill="#505050"/><rect x="420.9" y="138" width="5.2" height="68.7" fill="#ff0000" stroke="#111" stroke-width="1"/><rect x="431" y="181" width="1.1" height="88.7" fill="#505050"/><rect x="428.9" y="203.9" width="5.2" height="28.9" fill="#ff0000" stroke="#111" stroke-width="1"/><rect x="440" y="196.4" width="1.1" height="86.1" fill="#505050"/><rect x="437.9" y="207.7" width="5.2" height="23.9" fill="#00ff00" stroke="#111" stroke-width="1"/><rect x="449" y="126" width="1.1" height="82" fill="#505050"/><rect x="446.9" y="141.1" width="5.2" height="61.5" fill="#00ff00" stroke="#111" stroke-width="1"/><rect x="458" y="126.5" width="1.1" height="48.9" fill="#505050"/><rect x="455.9" y="137.1" width="5.2" height="31" fill="#ff0000" stroke="#111" stroke-width="1"/><rect x="467" y="161" width="1.1" height="58.5" fill="#505050"/><rect x="464.9" y="170.5" width="5.2" height="5.2" fill="#ff0000" stroke="#111" stroke-width="1"/><rect x="475" y="145.5" width="1.1" height="38" fill="#505050"/><rect x="472.9" y="175.1" width="5.2" height="2" fill="#ff0000" stroke="#111" stroke-width="1"/><rect x="484" y="113.8" width="1.1" height="71.6" fill="#505050"/><rect x="481.9" y="116.2" width="5.2" height="57.3" fill="#00ff00" stroke="#111" stroke-width="1"/><rect x="493" y="100.7" width="1.1" height="18.5" fill="#505050"/><rect x="490.9" y="111.5" width="5.2" height="3.1" fill="#00ff00" stroke="#111" stroke-width="1"/><rect x="502" y="84.4" width="1.1" height="44.8" fill="#505050"/><rect x="499.9" y="92.5" width="5.2" height="16.4" fill="#00ff00" stroke="#111" stroke-width="1"/><rect x="511" y="69.5" width="1.1" height="35.3" fill="#505050"/><rect x="508.9" y="90.4" width="5.2" height="4.4" fill="#ff0000" stroke="#111" stroke-width="1"/><rect x="519" y="75" width="1.1" height="33.9" fill="#505050"/><rect x="516.9" y="97.7" width="5.2" height="2.5" fill="#ff0000" stroke="#111" stroke-width="1"/><rect x="528" y="75.7" width="1.1" height="45.4" fill="#505050"/><rect x="525.9" y="87.1" width="5.2" height="18.6" fill="#00ff00" stroke="#111" stroke-width="1"/><rect x="537" y="77.6" width="1.1" height="19.9" fill="#505050"/><rect x="534.9" y="83.6" width="5.2" height="11.2" fill="#ff0000" stroke="#111" stroke-width="1"/><rect x="546" y="89.3" width="1.1" height="83.4" fill="#505050"/><rect x="543.9" y="96.6" width="5.2" height="52" fill="#ff0000" stroke="#111" stroke-width="1"/><rect x="555" y="98" width="1.1" height="61.1" fill="#505050"/><rect x="552.9" y="107" width="5.2" height="39.7" fill="#00ff00" stroke="#111" stroke-width="1"/><rect x="563" y="100.2" width="1.1" height="30.4" fill="#505050"/><rect x="560.9" y="103.9" width="5.2" height="3.7" fill="#00ff00" stroke="#111" stroke-width="1"/><rect x="572" y="100.7" width="1.1" height="55.7" fill="#505050"/><rect x="569.9" y="104.5" width="5.2" height="41.3" fill="#ff0000" stroke="#111" stroke-width="1"/><rect x="581" y="113.8" width="1.1" height="48" fill="#505050"/><rect x="578.9" y="138.7" width="5.2" height="3.6" fill="#00ff00" stroke="#111" stroke-width="1"/><rect x="590" y="119.2" width="1.1" height="60.3" fill="#505050"/><rect x="587.9" y="133.8" width="5.2" height="9.9" fill="#ff0000" stroke="#111" stroke-width="1"/><rect x="599" y="107.5" width="1.1" height="36.7" fill="#505050"/><rect x="596.9" y="120.2" width="5.2" height="22.1" fill="#00ff00" stroke="#111" stroke-width="1"/><rect x="607" y="117.6" width="1.1" height="67.3" fill="#505050"/><rect x="604.9" y="119.7" width="5.2" height="44.9" fill="#ff0000" stroke="#111" stroke-width="1"/><rect x="616" y="156.4" width="1.1" height="51.6" fill="#505050"/><rect x="613.9" y="167.2" width="5.2" height="16.7" fill="#ff0000" stroke="#111" stroke-width="1"/><rect x="625" y="182.1" width="1.1" height="46.5" fill="#505050"/><rect x="622.9" y="186.3" width="5.2" height="35.6" fill="#ff0000" stroke="#111" stroke-width="1"/><rect x="634" y="205.5" width="1.1" height="43.6" fill="#505050"/><rect x="631.4" y="217.5" width="6.2" height="1.5" fill="#222"/><rect x="643" y="140.9" width="1.1" height="77.8" fill="#505050"/><rect x="640.9" y="144.7" width="5.2" height="70.9" fill="#00ff00" stroke="#111" stroke-width="1"/><rect x="651" y="122.4" width="1.1" height="31.3" fill="#505050"/><rect x="648.9" y="139.2" width="5.2" height="6.6" fill="#00ff00" stroke="#111" stroke-width="1"/><rect x="660" y="159.1" width="1.1" height="52.9" fill="#505050"/><rect x="657.9" y="161" width="5.2" height="42.4" fill="#ff0000" stroke="#111" stroke-width="1"/><rect x="669" y="214.3" width="1.1" height="50.7" fill="#505050"/><rect x="666.4" y="228" width="6.2" height="1.8" fill="#cc1010"/><rect x="678" y="190.8" width="1.1" height="76.5" fill="#505050"/><rect x="675.9" y="194.5" width="5.2" height="35.6" fill="#00ff00" stroke="#111" stroke-width="1"/><rect x="687" y="167" width="1.1" height="54.2" fill="#505050"/><rect x="684.4" y="191.5" width="6.2" height="1.5" fill="#222"/><rect x="695" y="109.5" width="1.1" height="102.8" fill="#505050"/><rect x="692.9" y="122.9" width="5.2" height="70.1" fill="#00ff00" stroke="#111" stroke-width="1"/><rect x="704" y="114.7" width="1.1" height="56.6" fill="#505050"/><rect x="701.9" y="123.5" width="5.2" height="45" fill="#ff0000" stroke="#111" stroke-width="1"/><rect x="713" y="100.2" width="1.1" height="52.8" fill="#505050"/><rect x="710.9" y="128.9" width="5.2" height="17.6" fill="#00ff00" stroke="#111" stroke-width="1"/><rect x="722" y="107.5" width="1.1" height="24.2" fill="#505050"/><rect x="719.9" y="119" width="5.2" height="2.4" fill="#00ff00" stroke="#111" stroke-width="1"/><rect x="731" y="112.4" width="1.1" height="53" fill="#505050"/><rect x="728.9" y="115.8" width="5.2" height="47.5" fill="#ff0000" stroke="#111" stroke-width="1"/><rect x="739" y="128.4" width="1.1" height="57.3" fill="#505050"/><rect x="736.9" y="160.9" width="5.2" height="17.8" fill="#ff0000" stroke="#111" stroke-width="1"/><rect x="748" y="162" width="1.1" height="38.9" fill="#505050"/><rect x="745.9" y="175.7" width="5.2" height="2" fill="#00ff00" stroke="#111" stroke-width="1"/>
<text x="1.8" y="52.6" font-size="9.6" fill="#ff2020" textLength="45.5" lengthAdjust="spacingAndGlyphs" font-family="Liberation Sans, Arial, sans-serif" stroke="#ff2020" stroke-width="0.4" stroke-linejoin="round">MA(20,C)e</text>
<text x="1.8" y="64.2" font-size="9.6" fill="#2020ff" textLength="45.5" lengthAdjust="spacingAndGlyphs" font-family="Liberation Sans, Arial, sans-serif" stroke="#2020ff" stroke-width="0.4" stroke-linejoin="round">MA(40,C)e</text>
<text x="1.8" y="75.8" font-size="9.6" fill="#40d040" textLength="50.7" lengthAdjust="spacingAndGlyphs" font-family="Liberation Sans, Arial, sans-serif" stroke="#40d040" stroke-width="0.4" stroke-linejoin="round">MA(135,C)e</text>
<text x="1.2" y="102.6" font-size="10" font-weight="bold" fill="#1a1a1a" textLength="53.8" lengthAdjust="spacingAndGlyphs" font-family="Liberation Sans, Arial, sans-serif" stroke="#1a1a1a" stroke-width="0.12" stroke-linejoin="round">5 on Feb 25</text>
<text x="308.4" y="105" font-size="9.7" font-weight="bold" fill="#1a1a1a" textLength="85.2" lengthAdjust="spacingAndGlyphs" font-family="Liberation Sans, Arial, sans-serif" stroke="#1a1a1a" stroke-width="0.12" stroke-linejoin="round">2119.75 on April 27</text>
<text x="493.2" y="62.3" font-size="9.6" font-weight="bold" fill="#1a1a1a" textLength="70" lengthAdjust="spacingAndGlyphs" font-family="Liberation Sans, Arial, sans-serif" stroke="#1a1a1a" stroke-width="0.12" stroke-linejoin="round">2134 on May 19</text>
<text x="686.8" y="92.3" font-size="9.6" font-weight="bold" fill="#1a1a1a" textLength="74.1" lengthAdjust="spacingAndGlyphs" font-family="Liberation Sans, Arial, sans-serif" stroke="#1a1a1a" stroke-width="0.12" stroke-linejoin="round">2122 on June 22</text>
<text x="950.9" y="285.4" font-size="10" font-weight="bold" fill="#1a1a1a" textLength="54.1" lengthAdjust="spacingAndGlyphs" font-family="Liberation Sans, Arial, sans-serif" stroke="#1a1a1a" stroke-width="0.12" stroke-linejoin="round">yearly pivot</text>
<text x="1020.1" y="285.4" font-size="10" fill="#1a1aff" textLength="35.5" lengthAdjust="spacingAndGlyphs" font-family="Liberation Sans, Arial, sans-serif" stroke="#1a1aff" stroke-width="0.45" stroke-linejoin="round">(205548)</text>
<text x="3.2" y="512.5" font-size="6" fill="#333" textLength="39.8" lengthAdjust="spacingAndGlyphs" font-family="Liberation Sans, Arial, sans-serif" stroke="#333" stroke-width="0.32" stroke-linejoin="round">© eSignal, 2011</text>
<text x="1.6" y="29.8" font-size="10" fill="#1a1a1a" textLength="120.4" lengthAdjust="spacingAndGlyphs" font-family="Liberation Sans, Arial, sans-serif" stroke="#1a1a1a" stroke-width="0.32" stroke-linejoin="round">(ES #F - E-MINI S&amp;P 500,D)</text>
<rect x="125.5" y="21.5" width="220" height="10" fill="#c4c4c4"/>
<rect x="302.8" y="21.5" width="42.5" height="10" fill="#00ff00"/>
<rect x="125.5" y="31" width="220.5" height="1" fill="#707070"/>
<rect x="345" y="21.5" width="1" height="10.5" fill="#707070"/>
<text x="129.8" y="29.3" font-size="8.4" font-weight="bold" fill="#222" textLength="36.5" lengthAdjust="spacingAndGlyphs" font-family="Liberation Sans, Arial, sans-serif" stroke="#222" stroke-width="0.12" stroke-linejoin="round">O: 209475</text>
<text x="174.5" y="29.3" font-size="8.4" font-weight="bold" fill="#222" textLength="36" lengthAdjust="spacingAndGlyphs" font-family="Liberation Sans, Arial, sans-serif" stroke="#222" stroke-width="0.12" stroke-linejoin="round">H: 210075</text>
<text x="219.3" y="29.3" font-size="8.4" font-weight="bold" fill="#222" textLength="34.2" lengthAdjust="spacingAndGlyphs" font-family="Liberation Sans, Arial, sans-serif" stroke="#222" stroke-width="0.12" stroke-linejoin="round">L: 208625</text>
<text x="261.8" y="29.3" font-size="8.4" font-weight="bold" fill="#222" textLength="36" lengthAdjust="spacingAndGlyphs" font-family="Liberation Sans, Arial, sans-serif" stroke="#222" stroke-width="0.12" stroke-linejoin="round">C: 209550</text>
<text x="305.9" y="29.3" font-size="8.4" font-weight="bold" fill="#222" textLength="33.4" lengthAdjust="spacingAndGlyphs" font-family="Liberation Sans, Arial, sans-serif" stroke="#222" stroke-width="0.12" stroke-linejoin="round">Net: +150</text>
<rect x="0" y="19.5" width="1.5" height="596" fill="#a0a0a0"/>
<rect x="1098.7" y="19.5" width="1.3" height="596" fill="#b0b0b0"/>
<rect x="1064.6" y="19.5" width="1.2" height="559" fill="#707070"/>
<rect x="1.5" y="513.5" width="1063" height="1.2" fill="#f2f2f2"/>
<rect x="1.5" y="514.8" width="1063" height="1.5" fill="#9a9a9a"/>
<text x="1065.9" y="29.6" font-size="10" fill="#0a0a0a" textLength="30.5" lengthAdjust="spacingAndGlyphs" font-family="Liberation Sans, Arial, sans-serif" stroke="#0a0a0a" stroke-width="0.45" stroke-linejoin="round">215000</text>
<text x="1065.9" y="57.1" font-size="10" fill="#0a0a0a" textLength="30.5" lengthAdjust="spacingAndGlyphs" font-family="Liberation Sans, Arial, sans-serif" stroke="#0a0a0a" stroke-width="0.45" stroke-linejoin="round">214000</text>
<text x="1065.9" y="84.6" font-size="10" fill="#0a0a0a" textLength="30.5" lengthAdjust="spacingAndGlyphs" font-family="Liberation Sans, Arial, sans-serif" stroke="#0a0a0a" stroke-width="0.45" stroke-linejoin="round">213000</text>
<text x="1065.9" y="112.1" font-size="10" fill="#0a0a0a" textLength="30.5" lengthAdjust="spacingAndGlyphs" font-family="Liberation Sans, Arial, sans-serif" stroke="#0a0a0a" stroke-width="0.45" stroke-linejoin="round">212000</text>
<text x="1065.9" y="139.6" font-size="10" fill="#0a0a0a" textLength="30.5" lengthAdjust="spacingAndGlyphs" font-family="Liberation Sans, Arial, sans-serif" stroke="#0a0a0a" stroke-width="0.45" stroke-linejoin="round">211000</text>
<text x="1065.9" y="167.1" font-size="10" fill="#0a0a0a" textLength="30.5" lengthAdjust="spacingAndGlyphs" font-family="Liberation Sans, Arial, sans-serif" stroke="#0a0a0a" stroke-width="0.45" stroke-linejoin="round">210000</text>
<text x="1065.9" y="194.6" font-size="10" fill="#0a0a0a" textLength="30.5" lengthAdjust="spacingAndGlyphs" font-family="Liberation Sans, Arial, sans-serif" stroke="#0a0a0a" stroke-width="0.45" stroke-linejoin="round">209000</text>
<text x="1065.9" y="222.1" font-size="10" fill="#0a0a0a" textLength="30.5" lengthAdjust="spacingAndGlyphs" font-family="Liberation Sans, Arial, sans-serif" stroke="#0a0a0a" stroke-width="0.45" stroke-linejoin="round">208000</text>
<text x="1065.9" y="249.6" font-size="10" fill="#0a0a0a" textLength="30.5" lengthAdjust="spacingAndGlyphs" font-family="Liberation Sans, Arial, sans-serif" stroke="#0a0a0a" stroke-width="0.45" stroke-linejoin="round">207000</text>
<text x="1065.9" y="277.1" font-size="10" fill="#0a0a0a" textLength="30.5" lengthAdjust="spacingAndGlyphs" font-family="Liberation Sans, Arial, sans-serif" stroke="#0a0a0a" stroke-width="0.45" stroke-linejoin="round">206000</text>
<text x="1065.9" y="304.6" font-size="10" fill="#0a0a0a" textLength="30.5" lengthAdjust="spacingAndGlyphs" font-family="Liberation Sans, Arial, sans-serif" stroke="#0a0a0a" stroke-width="0.45" stroke-linejoin="round">205000</text>
<text x="1065.9" y="332.1" font-size="10" fill="#0a0a0a" textLength="30.5" lengthAdjust="spacingAndGlyphs" font-family="Liberation Sans, Arial, sans-serif" stroke="#0a0a0a" stroke-width="0.45" stroke-linejoin="round">204000</text>
<text x="1065.9" y="359.6" font-size="10" fill="#0a0a0a" textLength="30.5" lengthAdjust="spacingAndGlyphs" font-family="Liberation Sans, Arial, sans-serif" stroke="#0a0a0a" stroke-width="0.45" stroke-linejoin="round">203000</text>
<text x="1065.9" y="387.1" font-size="10" fill="#0a0a0a" textLength="30.5" lengthAdjust="spacingAndGlyphs" font-family="Liberation Sans, Arial, sans-serif" stroke="#0a0a0a" stroke-width="0.45" stroke-linejoin="round">202000</text>
<text x="1065.9" y="414.6" font-size="10" fill="#0a0a0a" textLength="30.5" lengthAdjust="spacingAndGlyphs" font-family="Liberation Sans, Arial, sans-serif" stroke="#0a0a0a" stroke-width="0.45" stroke-linejoin="round">201000</text>
<text x="1065.9" y="442.1" font-size="10" fill="#0a0a0a" textLength="30.5" lengthAdjust="spacingAndGlyphs" font-family="Liberation Sans, Arial, sans-serif" stroke="#0a0a0a" stroke-width="0.45" stroke-linejoin="round">200000</text>
<text x="1065.9" y="469.6" font-size="10" fill="#0a0a0a" textLength="30.5" lengthAdjust="spacingAndGlyphs" font-family="Liberation Sans, Arial, sans-serif" stroke="#0a0a0a" stroke-width="0.45" stroke-linejoin="round">199000</text>
<text x="1065.9" y="497.1" font-size="10" fill="#0a0a0a" textLength="30.5" lengthAdjust="spacingAndGlyphs" font-family="Liberation Sans, Arial, sans-serif" stroke="#0a0a0a" stroke-width="0.45" stroke-linejoin="round">198000</text>
<rect x="1066.2" y="89.6" width="32.3" height="11.2" fill="#ff6622"/>
<text x="1066.6" y="98.8" font-size="10" fill="#ffffff" textLength="31.5" lengthAdjust="spacingAndGlyphs" font-family="Liberation Sans, Arial, sans-serif" stroke="#ffffff" stroke-width="0.32" stroke-linejoin="round">212457</text>
<rect x="1065.8" y="231" width="30.6" height="11.8" fill="#33cc33"/>
<text x="1066.2" y="240.5" font-size="10" fill="#ffffff" textLength="30.2" lengthAdjust="spacingAndGlyphs" font-family="Liberation Sans, Arial, sans-serif" stroke="#ffffff" stroke-width="0.32" stroke-linejoin="round">207307</text>
<rect x="1065.8" y="167.6" width="30.6" height="1.8" fill="#2222ff"/>
<rect x="1065.8" y="156.2" width="30.6" height="11.8" fill="#ff0000"/>
<text x="1066.2" y="165.7" font-size="10" fill="#ffffff" textLength="30.2" lengthAdjust="spacingAndGlyphs" font-family="Liberation Sans, Arial, sans-serif" stroke="#ffffff" stroke-width="0.32" stroke-linejoin="round">210037</text>
<rect x="1065.8" y="169.3" width="30.6" height="11.5" fill="#00ee00"/>
<text x="1066.2" y="178.65" font-size="10" fill="#ffffff" textLength="30.2" lengthAdjust="spacingAndGlyphs" font-family="Liberation Sans, Arial, sans-serif" stroke="#ffffff" stroke-width="0.32" stroke-linejoin="round">209575</text>
<rect x="1.5" y="548" width="1063" height="1" fill="#222"/>
<path d="M18 571h1v1h-1zM62 571h1v1h-1zM106 571h1v1h-1zM150 571h1v1h-1zM194 571h1v1h-1zM238 571h1v1h-1zM282 571h1v1h-1zM326 571h1v1h-1zM370 571h1v1h-1zM414 571h1v1h-1zM458 571h1v1h-1zM502 571h1v1h-1zM546 571h1v1h-1zM581 571h1v1h-1zM625 571h1v1h-1zM669 571h1v1h-1zM713 571h1v1h-1z" fill="#8a8a8a"/>
<clipPath id="mc"><rect x="1.5" y="516.3" width="1063" height="62"/></clipPath>
<g clip-path="url(#mc)"><rect x="8.7" y="548.4" width="1.6" height="15.12" fill="#ff44ff"/><rect x="17.7" y="548.4" width="1.6" height="14.18" fill="#ff44ff"/><rect x="26.7" y="548.4" width="1.6" height="17.99" fill="#ff44ff"/><rect x="34.7" y="548.4" width="1.6" height="25.19" fill="#ff44ff"/><rect x="43.7" y="548.4" width="1.6" height="24.84" fill="#ff44ff"/><rect x="52.7" y="548.4" width="1.6" height="39.35" fill="#ff44ff"/><rect x="61.7" y="548.4" width="1.6" height="36.7" fill="#ff44ff"/><rect x="70.7" y="548.4" width="1.6" height="44.3" fill="#ff44ff"/><rect x="78.7" y="548.4" width="1.6" height="45.4" fill="#ff44ff"/><rect x="87.7" y="548.4" width="1.6" height="43.01" fill="#ff44ff"/><rect x="96.7" y="548.4" width="1.6" height="32.65" fill="#ff44ff"/><rect x="105.7" y="548.4" width="1.6" height="12.37" fill="#ff44ff"/><rect x="114.7" y="548.4" width="1.6" height="3.52" fill="#ff44ff"/><rect x="122.7" y="532.61" width="1.6" height="15.79" fill="#ff44ff"/><rect x="131.7" y="530.3" width="1.6" height="18.1" fill="#ff44ff"/><rect x="140.7" y="520.84" width="1.6" height="27.56" fill="#ff44ff"/><rect x="149.7" y="521.98" width="1.6" height="26.42" fill="#ff44ff"/><rect x="158.7" y="528.4" width="1.6" height="20" fill="#ff44ff"/><rect x="166.7" y="544.13" width="1.6" height="4.27" fill="#ff44ff"/><rect x="175.7" y="548.4" width="1.6" height="11.03" fill="#ff44ff"/><rect x="184.7" y="548.4" width="1.6" height="11" fill="#ff44ff"/><rect x="193.7" y="544.77" width="1.6" height="3.63" fill="#ff44ff"/><rect x="202.7" y="547.85" width="1.6" height="0.55" fill="#ff44ff"/><rect x="210.7" y="548.4" width="1.6" height="4.6" fill="#ff44ff"/><rect x="219.7" y="548.4" width="1.6" height="3.01" fill="#ff44ff"/><rect x="228.7" y="548.4" width="1.6" height="2.62" fill="#ff44ff"/><rect x="237.7" y="544.05" width="1.6" height="4.35" fill="#ff44ff"/><rect x="246.7" y="542.96" width="1.6" height="5.44" fill="#ff44ff"/><rect x="254.7" y="539.57" width="1.6" height="8.83" fill="#ff44ff"/><rect x="263.7" y="533.17" width="1.6" height="15.23" fill="#ff44ff"/><rect x="272.7" y="527.4" width="1.6" height="21" fill="#ff44ff"/><rect x="281.7" y="530.8" width="1.6" height="17.6" fill="#ff44ff"/><rect x="290.7" y="531.6" width="1.6" height="16.8" fill="#ff44ff"/><rect x="298.7" y="528.7" width="1.6" height="19.7" fill="#ff44ff"/><rect x="307.7" y="530.38" width="1.6" height="18.02" fill="#ff44ff"/><rect x="316.7" y="547.72" width="1.6" height="0.68" fill="#ff44ff"/><rect x="325.7" y="547.55" width="1.6" height="0.85" fill="#ff44ff"/><rect x="334.7" y="548.4" width="1.6" height="0.93" fill="#ff44ff"/><rect x="342.7" y="546.12" width="1.6" height="2.28" fill="#ff44ff"/><rect x="351.7" y="542.93" width="1.6" height="5.47" fill="#ff44ff"/><rect x="360.7" y="541.15" width="1.6" height="7.25" fill="#ff44ff"/><rect x="369.7" y="545.85" width="1.6" height="2.55" fill="#ff44ff"/><rect x="378.7" y="545.32" width="1.6" height="3.08" fill="#ff44ff"/><rect x="386.7" y="548.4" width="1.6" height="5.39" fill="#ff44ff"/><rect x="395.7" y="548.4" width="1.6" height="20.47" fill="#ff44ff"/><rect x="404.7" y="548.4" width="1.6" height="12.68" fill="#ff44ff"/><rect x="413.7" y="548.4" width="1.6" height="4.17" fill="#ff44ff"/><rect x="422.7" y="548.4" width="1.6" height="14.01" fill="#ff44ff"/><rect x="430.7" y="548.4" width="1.6" height="22.06" fill="#ff44ff"/><rect x="439.7" y="548.4" width="1.6" height="17.87" fill="#ff44ff"/><rect x="448.7" y="548.4" width="1.6" height="0.24" fill="#ff44ff"/><rect x="457.7" y="547.82" width="1.6" height="0.58" fill="#ff44ff"/><rect x="466.7" y="548.4" width="1.6" height="1.6" fill="#ff44ff"/><rect x="474.7" y="548.4" width="1.6" height="3.1" fill="#ff44ff"/><rect x="483.7" y="538.1" width="1.6" height="10.3" fill="#ff44ff"/><rect x="492.7" y="533.99" width="1.6" height="14.41" fill="#ff44ff"/><rect x="501.7" y="529.92" width="1.6" height="18.48" fill="#ff44ff"/><rect x="510.7" y="531.01" width="1.6" height="17.39" fill="#ff44ff"/><rect x="518.7" y="535.96" width="1.6" height="12.44" fill="#ff44ff"/><rect x="527.7" y="536.83" width="1.6" height="11.57" fill="#ff44ff"/><rect x="536.7" y="541.25" width="1.6" height="7.15" fill="#ff44ff"/><rect x="545.7" y="548.4" width="1.6" height="6.41" fill="#ff44ff"/><rect x="554.7" y="548.4" width="1.6" height="2.9" fill="#ff44ff"/><rect x="562.7" y="548.4" width="1.6" height="0.6" fill="#ff44ff"/><rect x="571.7" y="548.4" width="1.6" height="11.57" fill="#ff44ff"/><rect x="580.7" y="548.4" width="1.6" height="14.07" fill="#ff44ff"/><rect x="589.7" y="548.4" width="1.6" height="15.56" fill="#ff44ff"/><rect x="598.7" y="548.4" width="1.6" height="9.64" fill="#ff44ff"/><rect x="606.7" y="548.4" width="1.6" height="15.43" fill="#ff44ff"/><rect x="615.7" y="548.4" width="1.6" height="20.42" fill="#ff44ff"/><rect x="624.7" y="548.4" width="1.6" height="27.6" fill="#ff44ff"/><rect x="633.7" y="548.4" width="1.6" height="25.98" fill="#ff44ff"/><rect x="642.7" y="548.4" width="1.6" height="7.24" fill="#ff44ff"/><rect x="650.7" y="543.49" width="1.6" height="4.91" fill="#ff44ff"/><rect x="659.7" y="548.4" width="1.6" height="2.65" fill="#ff44ff"/><rect x="668.7" y="548.4" width="1.6" height="11.8" fill="#ff44ff"/><rect x="677.7" y="548.4" width="1.6" height="4.63" fill="#ff44ff"/><rect x="686.7" y="548.4" width="1.6" height="0.31" fill="#ff44ff"/><rect x="694.7" y="531.5" width="1.6" height="16.9" fill="#ff44ff"/><rect x="703.7" y="535.72" width="1.6" height="12.68" fill="#ff44ff"/><rect x="712.7" y="530.39" width="1.6" height="18.01" fill="#ff44ff"/><rect x="721.7" y="527.89" width="1.6" height="20.51" fill="#ff44ff"/><rect x="730.7" y="537.07" width="1.6" height="11.33" fill="#ff44ff"/><rect x="738.7" y="545.8" width="1.6" height="2.6" fill="#ff44ff"/><rect x="747.7" y="548.4" width="1.6" height="0" fill="#ff44ff"/>
<polyline points="9.1,518.6 18.2,518.1 36.4,521.4 54.5,525.9 72.7,535 87.3,542.3 98.2,547.7 114.5,553.2 132.7,555.5 150.9,555 167.3,556.8 181.8,558.6 190,559.7 211,556.9 237.7,551.1 268.3,548.3 300.7,548.3 323.6,543.5 342.7,540.3 361.8,536.8 380.9,534.9 390,535.3 409.1,536.8 428.2,540.6 445.4,544.5 466.4,544.8 485.5,544.8 504.5,544.1 514.1,543.5 527.5,542.2 538.9,541 554.2,541.6 565.6,541.6 580.9,539.3 600,540.2 616.4,542 625.5,544.4 634.2,547.5 643.3,549.3 651.8,551.1 660.5,552 669.5,554.2 678.5,555.6 687.3,556.2 696,556.2 704.5,556 713.6,555.1 722.4,553.8 731.3,552.4 748.7,552.4" fill="none" stroke="#ff4040" stroke-width="1.1"/>
<polyline points="9.5,533.7 18.3,532.3 27.1,537.7 35.9,546.5 44.7,548.3 53.5,565 62.3,566.5 71.1,578.5 79.9,584 88.7,586 97.5,580 106.3,562.8 115.1,556.8 123.9,538.6 132.7,537.4 141.5,527.7 150.3,528.6 159.1,535.9 167.9,552.6 176.7,569 185.5,570.1 194.3,555.5 203.1,557.4 211.9,561.3 220.7,557.8 229.5,555.5 238.3,546.7 247.1,544.8 255.9,540.6 264.7,533.4 273.5,527.3 282.3,530.7 291.1,531.5 299.9,528.6 308.7,528.6 317.5,544.1 326.3,542.2 335.1,542.5 343.9,537.8 352.7,533 361.5,529.6 370.3,533.4 379.1,532 387.9,540.6 396.7,556.3 405.5,549.2 414.3,542 423.1,553.6 431.9,563.5 440.7,561.3 449.5,544.8 458.3,544.1 467.1,546.4 475.9,547.9 484.7,534.5 493.5,530.1 502.3,525.7 511.1,526.3 519.9,530.5 528.7,530.5 537.5,534 546.3,547.7 555.1,544.5 563.9,542.2 572.7,552.1 581.5,553.4 590.3,555.3 599.1,549.8 607.9,556.5 616.7,562.5 625.5,572 634.3,573.5 643.1,556.5 651.9,546.2 660.7,554.7 669.5,566 678.3,560.2 687.1,556.5 695.9,539.3 704.7,543.3 713.5,537.1 722.3,533.3 731.1,541.1 739.9,549.8 748.7,552.4" fill="none" stroke="#3a3aff" stroke-width="1.1"/></g>
<text x="2" y="528.4" font-size="10.5" font-weight="bold" fill="#2a2aff" textLength="74" lengthAdjust="spacingAndGlyphs" font-family="Liberation Sans, Arial, sans-serif" stroke="#2a2aff" stroke-width="0.12" stroke-linejoin="round">MACD(3,10,16,C)</text>
<rect x="1065.8" y="541.7" width="18.2" height="5" fill="#ff00ff"/>
<text x="1066.6" y="551.6" font-size="10" fill="#ffffff" textLength="16.5" lengthAdjust="spacingAndGlyphs" font-family="Liberation Sans, Arial, sans-serif" stroke="#ffffff" stroke-width="0.32" stroke-linejoin="round">2.48</text>
<rect x="1065.8" y="545.9" width="21" height="1" fill="#3000c0"/>
<rect x="1065.8" y="546.8" width="21" height="11.4" fill="#ff0000"/>
<text x="1066.2" y="556" font-size="10" fill="#ffffff" textLength="20" lengthAdjust="spacingAndGlyphs" font-family="Liberation Sans, Arial, sans-serif" stroke="#ffffff" stroke-width="0.32" stroke-linejoin="round">-2.55</text>
<rect x="1.5" y="578.2" width="1063" height="1" fill="#444"/>
<rect x="1.5" y="579.7" width="1062.5" height="10.8" fill="#ececec"/>
<rect x="1063.5" y="578.3" width="1" height="12.5" fill="#555"/>
<rect x="2" y="580.3" width="10.6" height="9" fill="#d4d4d4" stroke="#9a9a9a" stroke-width="0.8"/>
<rect x="13.2" y="580.3" width="10.6" height="9" fill="#d4d4d4" stroke="#9a9a9a" stroke-width="0.8"/>
<path d="M5 584.8 L9 582.2 L9 587.4Z" fill="#111"/>
<path d="M20.5 584.8 L16.5 582.2 L16.5 587.4Z" fill="#111"/>
<path d="M372.5 579.6 L376.5 590 L406.4 590 L411.1 579.6" fill="#f4f4f4" stroke="#333" stroke-width="0.9"/>
<text x="377.7" y="588.2" font-size="9" fill="#3a3a3a" textLength="26.6" lengthAdjust="spacingAndGlyphs" font-family="Liberation Sans, Arial, sans-serif" stroke="#3a3a3a" stroke-width="0.12" stroke-linejoin="round">Volume</text>
<path d="M281 579.6 L285 590 L371.6 590 L375 579.6" fill="#f4f4f4" stroke="#333" stroke-width="0.9"/>
<text x="287" y="588.2" font-size="9" fill="#3a3a3a" textLength="83.9" lengthAdjust="spacingAndGlyphs" font-family="Liberation Sans, Arial, sans-serif" stroke="#3a3a3a" stroke-width="0.12" stroke-linejoin="round">Preferred Stochastic(,,)</text>
<path d="M173.6 579.6 L177.6 590 L280 590 L283.6 579.6" fill="#f4f4f4" stroke="#333" stroke-width="0.9"/>
<text x="179" y="588.2" font-size="9" fill="#3a3a3a" textLength="101" lengthAdjust="spacingAndGlyphs" font-family="Liberation Sans, Arial, sans-serif" stroke="#3a3a3a" stroke-width="0.12" stroke-linejoin="round">Directional Movement(14,14)</text>
<path d="M97.5 579.6 L101.5 590 L172.7 590 L176.4 579.6" fill="#f4f4f4" stroke="#333" stroke-width="0.9"/>
<text x="102.7" y="588.2" font-size="9" fill="#3a3a3a" textLength="69.1" lengthAdjust="spacingAndGlyphs" font-family="Liberation Sans, Arial, sans-serif" stroke="#3a3a3a" stroke-width="0.12" stroke-linejoin="round">Stochastic(14(1),3)</text>
<path d="M26.7 579.6 L32.3 590 L96.5 590 L100.5 579.6" fill="#ffffff" stroke="#333" stroke-width="0.9"/>
<text x="33.7" y="588.2" font-size="9" fill="#3a3a3a" textLength="61.1" lengthAdjust="spacingAndGlyphs" font-family="Liberation Sans, Arial, sans-serif" stroke="#3a3a3a" stroke-width="0.12" stroke-linejoin="round">MACD(3,10,16,C)</text>
<rect x="1.5" y="578.6" width="410" height="1" fill="#333"/>
<rect x="18" y="590.5" width="1" height="1.2" fill="#666"/>
<text x="17.7" y="601" font-size="10" font-weight="bold" fill="#1a1a1a" textLength="10.1" lengthAdjust="spacingAndGlyphs" font-family="Liberation Sans, Arial, sans-serif" stroke="#1a1a1a" stroke-width="0.12" stroke-linejoin="round">02</text>
<rect x="62" y="590.5" width="1" height="1.2" fill="#666"/>
<text x="61.7" y="601" font-size="10" font-weight="bold" fill="#1a1a1a" textLength="10.1" lengthAdjust="spacingAndGlyphs" font-family="Liberation Sans, Arial, sans-serif" stroke="#1a1a1a" stroke-width="0.12" stroke-linejoin="round">09</text>
<rect x="106" y="590.5" width="1" height="1.2" fill="#666"/>
<text x="105.7" y="601" font-size="10" font-weight="bold" fill="#1a1a1a" textLength="10.1" lengthAdjust="spacingAndGlyphs" font-family="Liberation Sans, Arial, sans-serif" stroke="#1a1a1a" stroke-width="0.12" stroke-linejoin="round">16</text>
<rect x="150" y="590.5" width="1" height="1.2" fill="#666"/>
<text x="149.7" y="601" font-size="10" font-weight="bold" fill="#1a1a1a" textLength="10.1" lengthAdjust="spacingAndGlyphs" font-family="Liberation Sans, Arial, sans-serif" stroke="#1a1a1a" stroke-width="0.12" stroke-linejoin="round">23</text>
<rect x="194" y="590.5" width="1" height="1.2" fill="#666"/>
<text x="193.7" y="601" font-size="10" font-weight="bold" fill="#1a1a1a" textLength="10.1" lengthAdjust="spacingAndGlyphs" font-family="Liberation Sans, Arial, sans-serif" stroke="#1a1a1a" stroke-width="0.12" stroke-linejoin="round">30</text>
<rect x="238" y="590.5" width="1" height="1.2" fill="#666"/>
<text x="237.7" y="601" font-size="10" font-weight="bold" fill="#1a1a1a" textLength="10.1" lengthAdjust="spacingAndGlyphs" font-family="Liberation Sans, Arial, sans-serif" stroke="#1a1a1a" stroke-width="0.12" stroke-linejoin="round">06</text>
<rect x="282" y="590.5" width="1" height="1.2" fill="#666"/>
<text x="281.7" y="601" font-size="10" font-weight="bold" fill="#1a1a1a" textLength="10.1" lengthAdjust="spacingAndGlyphs" font-family="Liberation Sans, Arial, sans-serif" stroke="#1a1a1a" stroke-width="0.12" stroke-linejoin="round">13</text>
<rect x="326" y="590.5" width="1" height="1.2" fill="#666"/>
<text x="325.7" y="601" font-size="10" font-weight="bold" fill="#1a1a1a" textLength="10.1" lengthAdjust="spacingAndGlyphs" font-family="Liberation Sans, Arial, sans-serif" stroke="#1a1a1a" stroke-width="0.12" stroke-linejoin="round">20</text>
<rect x="370" y="590.5" width="1" height="1.2" fill="#666"/>
<text x="369.7" y="601" font-size="10" font-weight="bold" fill="#1a1a1a" textLength="10.1" lengthAdjust="spacingAndGlyphs" font-family="Liberation Sans, Arial, sans-serif" stroke="#1a1a1a" stroke-width="0.12" stroke-linejoin="round">27</text>
<rect x="414" y="590.5" width="1" height="1.2" fill="#666"/>
<text x="413.7" y="601" font-size="10" font-weight="bold" fill="#1a1a1a" textLength="10.1" lengthAdjust="spacingAndGlyphs" font-family="Liberation Sans, Arial, sans-serif" stroke="#1a1a1a" stroke-width="0.12" stroke-linejoin="round">04</text>
<rect x="458" y="590.5" width="1" height="1.2" fill="#666"/>
<text x="457.7" y="601" font-size="10" font-weight="bold" fill="#1a1a1a" textLength="10.1" lengthAdjust="spacingAndGlyphs" font-family="Liberation Sans, Arial, sans-serif" stroke="#1a1a1a" stroke-width="0.12" stroke-linejoin="round">11</text>
<rect x="502" y="590.5" width="1" height="1.2" fill="#666"/>
<text x="501.7" y="601" font-size="10" font-weight="bold" fill="#1a1a1a" textLength="10.1" lengthAdjust="spacingAndGlyphs" font-family="Liberation Sans, Arial, sans-serif" stroke="#1a1a1a" stroke-width="0.12" stroke-linejoin="round">18</text>
<rect x="546" y="590.5" width="1" height="1.2" fill="#666"/>
<text x="545.7" y="601" font-size="10" font-weight="bold" fill="#1a1a1a" textLength="10.1" lengthAdjust="spacingAndGlyphs" font-family="Liberation Sans, Arial, sans-serif" stroke="#1a1a1a" stroke-width="0.12" stroke-linejoin="round">26</text>
<rect x="581" y="590.5" width="1" height="1.2" fill="#666"/>
<text x="580.9" y="601" font-size="10" font-weight="bold" fill="#1a1a1a" textLength="10.1" lengthAdjust="spacingAndGlyphs" font-family="Liberation Sans, Arial, sans-serif" stroke="#1a1a1a" stroke-width="0.12" stroke-linejoin="round">01</text>
<rect x="625" y="590.5" width="1" height="1.2" fill="#666"/>
<text x="624.9" y="601" font-size="10" font-weight="bold" fill="#1a1a1a" textLength="10.1" lengthAdjust="spacingAndGlyphs" font-family="Liberation Sans, Arial, sans-serif" stroke="#1a1a1a" stroke-width="0.12" stroke-linejoin="round">08</text>
<rect x="669" y="590.5" width="1" height="1.2" fill="#666"/>
<text x="668.9" y="601" font-size="10" font-weight="bold" fill="#1a1a1a" textLength="10.1" lengthAdjust="spacingAndGlyphs" font-family="Liberation Sans, Arial, sans-serif" stroke="#1a1a1a" stroke-width="0.12" stroke-linejoin="round">15</text>
<rect x="713" y="590.5" width="1" height="1.2" fill="#666"/>
<text x="712.9" y="601" font-size="10" font-weight="bold" fill="#1a1a1a" textLength="10.1" lengthAdjust="spacingAndGlyphs" font-family="Liberation Sans, Arial, sans-serif" stroke="#1a1a1a" stroke-width="0.12" stroke-linejoin="round">22</text>
<text x="17.7" y="612.5" font-size="10" font-weight="bold" fill="#1a1a1a" textLength="18.4" lengthAdjust="spacingAndGlyphs" font-family="Liberation Sans, Arial, sans-serif" stroke="#1a1a1a" stroke-width="0.12" stroke-linejoin="round">Mar</text>
<text x="211.3" y="612.5" font-size="10" font-weight="bold" fill="#1a1a1a" textLength="17.4" lengthAdjust="spacingAndGlyphs" font-family="Liberation Sans, Arial, sans-serif" stroke="#1a1a1a" stroke-width="0.12" stroke-linejoin="round">Apr</text>
<text x="404.9" y="612.5" font-size="10" font-weight="bold" fill="#1a1a1a" textLength="18.5" lengthAdjust="spacingAndGlyphs" font-family="Liberation Sans, Arial, sans-serif" stroke="#1a1a1a" stroke-width="0.12" stroke-linejoin="round">May</text>
<text x="580.9" y="612.5" font-size="10" font-weight="bold" fill="#1a1a1a" textLength="17" lengthAdjust="spacingAndGlyphs" font-family="Liberation Sans, Arial, sans-serif" stroke="#1a1a1a" stroke-width="0.12" stroke-linejoin="round">Jun</text>
<rect x="876.1" y="591.4" width="43.9" height="11.3" fill="#ff6622"/>
<text x="878" y="601" font-size="10" font-weight="bold" fill="#ffffff" textLength="40" lengthAdjust="spacingAndGlyphs" font-family="Liberation Sans, Arial, sans-serif" stroke="#ffffff" stroke-width="0.12" stroke-linejoin="round">07/13/15</text>
<rect x="0" y="614.6" width="1100" height="2" fill="#a0a0a0"/>
<rect x="0" y="616.6" width="1100" height="9.4" fill="#ececec"/>
<text x="971.6" y="623.6" font-size="7.5" fill="#222" textLength="125" lengthAdjust="spacingAndGlyphs" font-family="Liberation Sans, Arial, sans-serif" stroke="#222" stroke-width="0.32" stroke-linejoin="round">Published by eSignal (www.esignal.com)</text>
<rect x="2.2" y="2" width="0.9" height="14.7" fill="#b4b4b4"/>
<rect x="6.3" y="2.2" width="15.8" height="15" fill="#f9f9f9"/>
<rect x="6.3" y="2.2" width="15.8" height="0.9" fill="#a8a8a8"/>
<rect x="6.3" y="2.2" width="0.9" height="15" fill="#b8b8b8"/>
<rect x="9.3" y="5.3" width="11.6" height="3.9" fill="#00f000" stroke="#222" stroke-width="0.7"/>
<ellipse cx="12.6" cy="13" rx="3.1" ry="2.2" fill="#e2e200" stroke="#55554a" stroke-width="0.7"/>
<ellipse cx="18.3" cy="13" rx="3.1" ry="2.2" fill="#e2e200" stroke="#55554a" stroke-width="0.7"/>
<rect x="12" y="12.4" width="7" height="1.2" fill="#444"/>
<circle cx="15.5" cy="11.4" r="0.6" fill="#000"/>
<rect x="26.8" y="5.6" width="7.8" height="8.8" fill="#fafafa" stroke="#333" stroke-width="1"/>
<path d="M28.2 9h4.4M30.4 6.8v4.4M30 12.6h2.4" stroke="#111" stroke-width="1"/>
<rect x="33.6" y="5.2" width="1.4" height="2" fill="#333"/>
<rect x="42.4" y="4.6" width="6.6" height="9.5" fill="#f4f4f4" stroke="#555" stroke-width="0.9"/>
<rect x="44.2" y="6.3" width="7.2" height="8.8" fill="#fafafa" stroke="#333" stroke-width="1"/>
<path d="M45.6 9.4h4.4M47.8 7.4v4.4M46.4 13.2h3" stroke="#111" stroke-width="1"/>
<path d="M57.6 8.6 L61.2 5.6 L66.4 5.6 L66.4 14.8 L57.6 14.8 Z" fill="#f2f2f2" stroke="#333" stroke-width="0.9"/>
<path d="M59.4 10.2v3.6M61.4 9.6v4.2M63.4 11v2.8" stroke="#444" stroke-width="1"/>
<rect x="67.3" y="5.2" width="1.8" height="3.4" fill="#1a1ab8"/>
<path d="M74.9 9.8h8.1M78.9 5.9v7.8" stroke="#000" stroke-width="1.9"/>
<path d="M91.5 6.4 h4.2 l0.8 0.9 h4.8 v7.2 h-9.8 z" fill="#f6f07a" stroke="#7a7a60" stroke-width="0.7"/>
<path d="M91.9 14.9 h9.6 v-7" fill="none" stroke="#333" stroke-width="0.9"/>
<path d="M153.6 6.4 h4.2 l0.8 0.9 h4.8 v7.2 h-9.8 z" fill="#f6f07a" stroke="#7a7a60" stroke-width="0.7"/>
<path d="M154.0 14.9 h9.6 v-7" fill="none" stroke="#333" stroke-width="0.9"/>
<text x="107.4" y="13.2" font-size="9.7" fill="#303048" textLength="30.5" lengthAdjust="spacingAndGlyphs" font-family="Liberation Sans, Arial, sans-serif" stroke="#303048" stroke-width="0.32" stroke-linejoin="round">Equities</text>
<path d="M142.8 9.1 h3.4 l-1.7 1.7z" fill="#111"/>
<text x="169.6" y="13.2" font-size="9.7" fill="#303048" textLength="60.4" lengthAdjust="spacingAndGlyphs" font-family="Liberation Sans, Arial, sans-serif" stroke="#303048" stroke-width="0.32" stroke-linejoin="round">Other Intervals</text>
<path d="M234.9 9.1 h3.4 l-1.7 1.7z" fill="#111"/>
<circle cx="250" cy="9.4" r="5.2" fill="none" stroke="#222" stroke-width="0.95"/>
<path d="M250.3 6.8h2.2M250.3 12h2.2M251.4 6.8v5.2" stroke="#222" stroke-width="0.9"/>
<path d="M249.4 7.2 C247.4 7.0 247.2 9.2 248.4 9.4 C249.6 9.6 249.6 11.8 247.4 11.6" fill="none" stroke="#333" stroke-width="0.8"/>
<circle cx="288" cy="9.4" r="5.2" fill="none" stroke="#222" stroke-width="0.95"/>
<path d="M286.6 6.8h2.8M286.6 12h2.8M288 6.8v5.2" stroke="#333" stroke-width="0.95"/>
<circle cx="315.7" cy="9.4" r="5.2" fill="none" stroke="#222" stroke-width="0.95"/>
<path d="M314.3 6.8h2.8M314.3 12h2.8M315.7 6.8v5.2" stroke="#333" stroke-width="0.95"/>
<circle cx="343.7" cy="9.4" r="5.2" fill="none" stroke="#222" stroke-width="0.95"/>
<path d="M342.3 6.8h2.8M342.3 12h2.8M343.7 6.8v5.2" stroke="#333" stroke-width="0.95"/>
<circle cx="377" cy="9.4" r="5.2" fill="none" stroke="#222" stroke-width="0.95"/>
<path d="M375.6 6.8h2.8M375.6 12h2.8M377 6.8v5.2" stroke="#333" stroke-width="0.95"/>
<circle cx="417.3" cy="9.4" r="5.2" fill="none" stroke="#222" stroke-width="0.95"/>
<path d="M415.90000000000003 6.8h2.8M415.90000000000003 12h2.8M417.3 6.8v5.2" stroke="#333" stroke-width="0.95"/>
<text x="260.5" y="13.2" font-size="9.7" fill="#303048" textLength="14.3" lengthAdjust="spacingAndGlyphs" font-family="Liberation Sans, Arial, sans-serif" stroke="#303048" stroke-width="0.32" stroke-linejoin="round">120</text>
<text x="298.4" y="13.2" font-size="9.7" fill="#303048" textLength="3.6" lengthAdjust="spacingAndGlyphs" font-family="Liberation Sans, Arial, sans-serif" stroke="#303048" stroke-width="0.32" stroke-linejoin="round">1</text>
<text x="325.9" y="13.2" font-size="9.7" fill="#303048" textLength="4.9" lengthAdjust="spacingAndGlyphs" font-family="Liberation Sans, Arial, sans-serif" stroke="#303048" stroke-width="0.32" stroke-linejoin="round">5</text>
<text x="353.8" y="13.2" font-size="9.7" fill="#303048" textLength="9.9" lengthAdjust="spacingAndGlyphs" font-family="Liberation Sans, Arial, sans-serif" stroke="#303048" stroke-width="0.32" stroke-linejoin="round">60</text>
<text x="387" y="13.2" font-size="9.7" fill="#303048" textLength="17.4" lengthAdjust="spacingAndGlyphs" font-family="Liberation Sans, Arial, sans-serif" stroke="#303048" stroke-width="0.32" stroke-linejoin="round">Daily</text>
<text x="428" y="13.2" font-size="9.7" fill="#303048" textLength="15.3" lengthAdjust="spacingAndGlyphs" font-family="Liberation Sans, Arial, sans-serif" stroke="#303048" stroke-width="0.32" stroke-linejoin="round">Tick</text>
</svg>
</body></html>
